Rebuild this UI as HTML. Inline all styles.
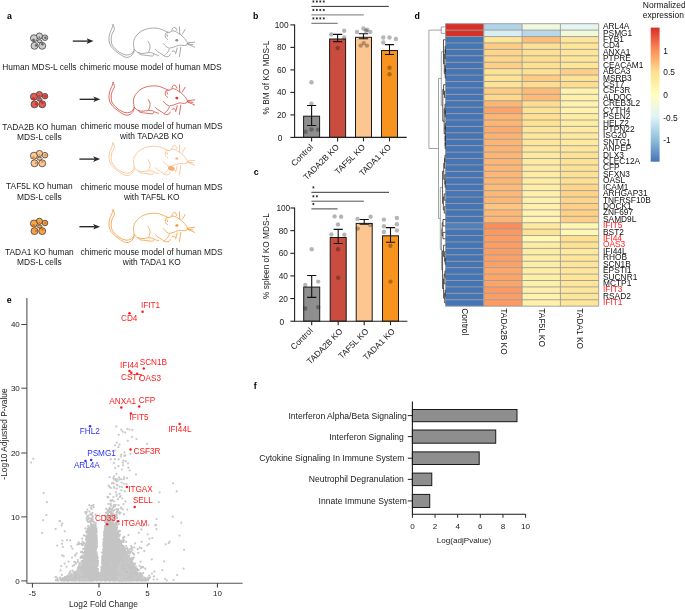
<!DOCTYPE html>
<html><head><meta charset="utf-8"><style>
html,body{margin:0;padding:0;background:#fff;width:685px;height:610px;overflow:hidden}
svg{display:block;will-change:transform;font-family:"Liberation Sans", sans-serif}
</style></head><body>
<svg width="685" height="610" viewBox="0 0 685 610">
<rect width="685" height="610" fill="#fff"/>
<text x="7.00" y="18.90" font-size="8.80" font-weight="bold">a</text>
<text x="253.10" y="18.70" font-size="8.80" font-weight="bold">b</text>
<text x="253.80" y="175.30" font-size="8.80" font-weight="bold">c</text>
<text x="414.60" y="19.30" font-size="8.80" font-weight="bold">d</text>
<text x="6.80" y="303.10" font-size="8.80" font-weight="bold">e</text>
<text x="253.80" y="388.90" font-size="8.80" font-weight="bold">f</text>
<defs><g id="mouse" fill="none" stroke-width="0.75" stroke-linecap="round">
<path d="M113.00,24.60C112.88,25.08 112.78,26.17 112.30,27.50C111.82,28.83 110.65,30.90 110.10,32.60C109.55,34.30 109.07,35.87 109.00,37.70C108.93,39.53 109.03,41.77 109.70,43.60C110.37,45.43 111.60,47.13 113.00,48.70C114.40,50.27 116.40,51.73 118.10,53.00C119.80,54.27 121.73,55.57 123.20,56.30C124.67,57.03 125.68,57.40 126.90,57.40C128.12,57.40 129.40,57.03 130.50,56.30C131.60,55.57 132.88,54.15 133.50,53.00C134.12,51.85 134.08,50.00 134.20,49.40"/>
<path d="M113.00,24.60C113.22,25.10 114.12,26.68 114.30,27.60C114.48,28.52 114.50,28.97 114.10,30.10C113.70,31.23 112.38,32.88 111.90,34.40C111.42,35.92 111.20,37.55 111.20,39.20C111.20,40.85 111.23,42.72 111.90,44.30C112.57,45.88 113.92,47.37 115.20,48.70C116.48,50.03 118.13,51.33 119.60,52.30C121.07,53.27 122.67,54.07 124.00,54.50C125.33,54.93 126.38,55.02 127.60,54.90C128.82,54.78 130.27,54.47 131.30,53.80C132.33,53.13 133.38,51.38 133.80,50.90"/>
<path d="M134.20,49.40C134.08,48.43 133.50,45.30 133.50,43.60C133.50,41.90 133.60,40.67 134.20,39.20C134.80,37.73 135.88,36.15 137.10,34.80C138.32,33.45 139.92,32.07 141.50,31.10C143.08,30.13 144.78,29.50 146.60,29.00C148.42,28.50 150.58,28.22 152.40,28.10C154.22,27.98 156.05,28.10 157.50,28.30C158.95,28.50 159.77,28.83 161.10,29.30C162.43,29.77 164.35,30.58 165.50,31.10C166.65,31.62 167.58,32.18 168.00,32.40"/>
<path d="M148.00,41.50C148.30,42.02 149.48,43.43 149.80,44.60C150.12,45.77 150.10,47.30 149.90,48.50C149.70,49.70 148.82,51.25 148.60,51.80"/>
<path d="M134.20,49.40C134.57,49.77 135.55,51.00 136.40,51.60C137.25,52.20 138.20,52.70 139.30,53.00C140.40,53.30 141.42,53.47 143.00,53.40C144.58,53.33 147.23,52.67 148.80,52.60C150.37,52.53 151.32,52.68 152.40,53.00C153.48,53.32 154.28,54.10 155.30,54.50C156.32,54.90 157.97,55.25 158.50,55.40"/>
<path d="M138.60,52.30C138.83,52.67 138.92,54.02 140.00,54.50C141.08,54.98 143.03,54.95 145.10,55.20C147.17,55.45 151.00,56.12 152.40,56.00C153.80,55.88 153.32,54.75 153.50,54.50"/>
<path d="M169.30,32.30C168.85,32.32 167.27,32.03 166.60,32.40C165.93,32.77 165.47,33.63 165.30,34.50C165.13,35.37 165.20,36.77 165.60,37.60C166.00,38.43 167.35,39.18 167.70,39.50"/>
<path d="M166.80,34.00L167.60,36.40"/>
<path d="M171.90,30.30C172.02,29.95 172.22,28.70 172.60,28.20C172.98,27.70 173.67,27.33 174.20,27.30C174.73,27.27 175.37,27.48 175.80,28.00C176.23,28.52 176.63,30.00 176.80,30.40"/>
<path d="M169.60,32.40C170.02,32.17 171.20,31.20 172.10,31.00C173.00,30.80 174.15,30.93 175.00,31.20C175.85,31.47 176.23,32.00 177.20,32.60C178.17,33.20 179.58,33.83 180.80,34.80C182.02,35.77 183.52,37.30 184.50,38.40C185.48,39.50 186.15,40.53 186.70,41.40C187.25,42.27 187.62,43.23 187.80,43.60"/>
<path d="M187.80,43.60C187.50,43.88 186.80,44.98 186.00,45.30C185.20,45.62 183.98,45.53 183.00,45.50C182.02,45.47 181.07,45.05 180.10,45.10C179.13,45.15 178.30,45.45 177.20,45.80C176.10,46.15 174.72,46.83 173.50,47.20C172.28,47.57 170.50,47.87 169.90,48.00"/>
<path d="M163.30,43.60C163.78,44.08 165.22,45.72 166.20,46.50C167.18,47.28 168.70,48.00 169.20,48.30"/>
<path d="M169.20,49.40C168.95,49.88 168.32,51.45 167.70,52.30C167.08,53.15 166.10,53.88 165.50,54.50C164.90,55.12 163.85,55.63 164.10,56.00C164.35,56.37 166.15,56.70 167.00,56.70C167.85,56.70 168.67,56.42 169.20,56.00C169.73,55.58 170.03,54.50 170.20,54.20"/>
<path d="M172.10,51.60C172.47,51.48 173.78,50.77 174.30,50.90C174.82,51.03 175.05,52.15 175.20,52.40"/>
<path d="M155.30,49.40C155.67,49.77 156.53,50.87 157.50,51.60C158.47,52.33 160.05,53.13 161.10,53.80C162.15,54.47 163.35,55.30 163.80,55.60"/>
<path d="M179.40,26.80L179.80,34.10"/>
<path d="M185.20,29.30L182.30,34.10"/>
<path d="M188.10,42.80L194.70,42.10"/>
<path d="M188.10,44.30L194.70,47.20"/>
<path d="M180.80,47.20L179.40,56.70"/>
<path d="M177.20,47.90L175.70,53.80"/>
<path d="M187.00,43.80L193.00,44.60"/>
</g></defs>
<g stroke="#383838" stroke-width="0.75">
<circle cx="39.40" cy="36.00" r="3.10" fill="#cdcdcd"/>
<circle cx="45.00" cy="37.70" r="2.80" fill="#cdcdcd"/>
<circle cx="33.90" cy="38.20" r="3.50" fill="#cdcdcd"/>
<circle cx="34.50" cy="45.80" r="3.50" fill="#cdcdcd"/>
<circle cx="42.20" cy="45.80" r="3.50" fill="#cdcdcd"/>
<ellipse cx="39.60" cy="41.20" rx="2.4" ry="1.5" fill="#cdcdcd"/>
</g>
<circle cx="33.50" cy="40.10" r="1.30" fill="#5e5e5e"/>
<circle cx="45.40" cy="37.70" r="1.20" fill="#5e5e5e"/>
<circle cx="39.40" cy="37.20" r="0.80" fill="#5e5e5e"/>
<circle cx="36.00" cy="45.40" r="1.20" fill="#5e5e5e"/>
<circle cx="42.40" cy="44.30" r="1.20" fill="#5e5e5e"/>
<line x1="72.80" y1="41.10" x2="88.30" y2="41.10" stroke="#2a2a2a" stroke-width="1.35"/>
<path d="M93.50,41.10 L86.60,38.30 L88.10,41.10 L86.60,43.90 Z" fill="#2a2a2a"/>
<use href="#mouse" transform="translate(0,0.00)" stroke="#8c8c8c"/>
<ellipse cx="176.8" cy="40.30" rx="1.5" ry="1.3" fill="#8c8c8c"/>
<text x="39.40" y="70.40" font-size="8.40" text-anchor="middle" fill="#1a1a1a">Human MDS-L cells</text>
<text x="150.60" y="70.40" font-size="8.40" text-anchor="middle" fill="#1a1a1a">chimeric mouse model of human MDS</text>
<g stroke="#383838" stroke-width="0.75">
<circle cx="39.40" cy="94.50" r="3.10" fill="#e05c55"/>
<circle cx="45.00" cy="96.20" r="2.80" fill="#e05c55"/>
<circle cx="33.90" cy="96.70" r="3.50" fill="#e05c55"/>
<circle cx="34.50" cy="104.30" r="3.50" fill="#e05c55"/>
<circle cx="42.20" cy="104.30" r="3.50" fill="#e05c55"/>
<ellipse cx="39.60" cy="99.70" rx="2.4" ry="1.5" fill="#e05c55"/>
</g>
<circle cx="33.50" cy="98.60" r="1.30" fill="#d42a20"/>
<circle cx="45.40" cy="96.20" r="1.20" fill="#d42a20"/>
<circle cx="39.40" cy="95.70" r="0.80" fill="#d42a20"/>
<circle cx="36.00" cy="103.90" r="1.20" fill="#d42a20"/>
<circle cx="42.40" cy="102.80" r="1.20" fill="#d42a20"/>
<line x1="79.60" y1="99.30" x2="95.10" y2="99.30" stroke="#2a2a2a" stroke-width="1.35"/>
<path d="M100.30,99.30 L93.40,96.50 L94.90,99.30 L93.40,102.10 Z" fill="#2a2a2a"/>
<use href="#mouse" transform="translate(0,57.80)" stroke="#cf3e32"/>
<ellipse cx="176.8" cy="98.10" rx="1.5" ry="1.3" fill="#cf3e32"/>
<text x="39.40" y="129.60" font-size="8.40" text-anchor="middle" fill="#1a1a1a">TADA2B KO human</text>
<text x="39.40" y="140.20" font-size="8.40" text-anchor="middle" fill="#1a1a1a">MDS-L cells</text>
<text x="151.60" y="128.80" font-size="8.40" text-anchor="middle" fill="#1a1a1a">chimeric mouse model of human MDS</text>
<text x="151.80" y="138.80" font-size="8.40" text-anchor="middle" fill="#1a1a1a">with TADA2B KO</text>
<g stroke="#383838" stroke-width="0.75">
<circle cx="39.40" cy="153.50" r="3.10" fill="#fcc894"/>
<circle cx="45.00" cy="155.20" r="2.80" fill="#fcc894"/>
<circle cx="33.90" cy="155.70" r="3.50" fill="#fcc894"/>
<circle cx="34.50" cy="163.30" r="3.50" fill="#fcc894"/>
<circle cx="42.20" cy="163.30" r="3.50" fill="#fcc894"/>
<ellipse cx="39.60" cy="158.70" rx="2.4" ry="1.5" fill="#fcc894"/>
</g>
<circle cx="33.50" cy="157.60" r="1.30" fill="#f08a3a"/>
<circle cx="45.40" cy="155.20" r="1.20" fill="#f08a3a"/>
<circle cx="39.40" cy="154.70" r="0.80" fill="#f08a3a"/>
<circle cx="36.00" cy="162.90" r="1.20" fill="#f08a3a"/>
<circle cx="42.40" cy="161.80" r="1.20" fill="#f08a3a"/>
<line x1="79.40" y1="159.10" x2="94.90" y2="159.10" stroke="#2a2a2a" stroke-width="1.35"/>
<path d="M100.10,159.10 L93.20,156.30 L94.70,159.10 L93.20,161.90 Z" fill="#2a2a2a"/>
<ellipse cx="171.3" cy="168.40" rx="3.4" ry="2.2" fill="#f7ae6c" transform="rotate(15 171.3 168.40)"/>
<use href="#mouse" transform="translate(0,118.20)" stroke="#f8b981"/>
<ellipse cx="176.8" cy="158.50" rx="1.5" ry="1.3" fill="#f8b981"/>
<text x="39.40" y="189.20" font-size="8.40" text-anchor="middle" fill="#1a1a1a">TAF5L KO human</text>
<text x="39.40" y="199.80" font-size="8.40" text-anchor="middle" fill="#1a1a1a">MDS-L cells</text>
<text x="151.60" y="189.50" font-size="8.40" text-anchor="middle" fill="#1a1a1a">chimeric mouse model of human MDS</text>
<text x="151.80" y="199.50" font-size="8.40" text-anchor="middle" fill="#1a1a1a">with TAF5L KO</text>
<g stroke="#383838" stroke-width="0.75">
<circle cx="39.40" cy="221.30" r="3.10" fill="#f6a444"/>
<circle cx="45.00" cy="223.00" r="2.80" fill="#f6a444"/>
<circle cx="33.90" cy="223.50" r="3.50" fill="#f6a444"/>
<circle cx="34.50" cy="231.10" r="3.50" fill="#f6a444"/>
<circle cx="42.20" cy="231.10" r="3.50" fill="#f6a444"/>
<ellipse cx="39.60" cy="226.50" rx="2.4" ry="1.5" fill="#f6a444"/>
</g>
<circle cx="33.50" cy="225.40" r="1.30" fill="#e8701a"/>
<circle cx="45.40" cy="223.00" r="1.20" fill="#e8701a"/>
<circle cx="39.40" cy="222.50" r="0.80" fill="#e8701a"/>
<circle cx="36.00" cy="230.70" r="1.20" fill="#e8701a"/>
<circle cx="42.40" cy="229.60" r="1.20" fill="#e8701a"/>
<line x1="79.40" y1="226.70" x2="94.90" y2="226.70" stroke="#2a2a2a" stroke-width="1.35"/>
<path d="M100.10,226.70 L93.20,223.90 L94.70,226.70 L93.20,229.50 Z" fill="#2a2a2a"/>
<use href="#mouse" transform="translate(0,185.20)" stroke="#f29530"/>
<ellipse cx="176.8" cy="225.50" rx="1.5" ry="1.3" fill="#f29530"/>
<text x="39.40" y="254.80" font-size="8.40" text-anchor="middle" fill="#1a1a1a">TADA1 KO human</text>
<text x="39.40" y="265.40" font-size="8.40" text-anchor="middle" fill="#1a1a1a">MDS-L cells</text>
<text x="151.60" y="255.40" font-size="8.40" text-anchor="middle" fill="#1a1a1a">chimeric mouse model of human MDS</text>
<text x="151.80" y="265.40" font-size="8.40" text-anchor="middle" fill="#1a1a1a">with TADA1 KO</text>
<rect x="303.60" y="116.20" width="16.00" height="21.20" fill="#8f8f8f" stroke="#1a1a1a" stroke-width="1.00"/>
<rect x="329.60" y="39.00" width="16.00" height="98.40" fill="#c94c3e" stroke="#1a1a1a" stroke-width="1.00"/>
<rect x="355.50" y="37.30" width="16.00" height="100.10" fill="#fdc590" stroke="#1a1a1a" stroke-width="1.00"/>
<rect x="381.50" y="50.50" width="16.00" height="86.90" fill="#f7941f" stroke="#1a1a1a" stroke-width="1.00"/>
<circle cx="311.50" cy="82.20" r="2.20" fill="#000" fill-opacity="0.29"/>
<circle cx="311.50" cy="103.70" r="2.20" fill="#000" fill-opacity="0.29"/>
<circle cx="331.20" cy="34.40" r="2.20" fill="#000" fill-opacity="0.29"/>
<circle cx="344.20" cy="30.70" r="2.20" fill="#000" fill-opacity="0.29"/>
<circle cx="344.20" cy="37.50" r="2.20" fill="#000" fill-opacity="0.29"/>
<circle cx="357.00" cy="31.90" r="2.20" fill="#000" fill-opacity="0.29"/>
<circle cx="363.40" cy="28.50" r="2.20" fill="#000" fill-opacity="0.29"/>
<circle cx="367.20" cy="29.70" r="2.20" fill="#000" fill-opacity="0.29"/>
<circle cx="370.30" cy="31.90" r="2.20" fill="#000" fill-opacity="0.29"/>
<circle cx="365.90" cy="30.90" r="2.20" fill="#000" fill-opacity="0.29"/>
<circle cx="383.30" cy="37.50" r="2.20" fill="#000" fill-opacity="0.29"/>
<circle cx="389.50" cy="37.50" r="2.20" fill="#000" fill-opacity="0.29"/>
<circle cx="395.90" cy="39.00" r="2.20" fill="#000" fill-opacity="0.29"/>
<circle cx="383.30" cy="42.50" r="2.20" fill="#000" fill-opacity="0.29"/>
<circle cx="305.60" cy="131.70" r="2.20" fill="#000" fill-opacity="0.29"/>
<circle cx="311.50" cy="129.50" r="2.20" fill="#000" fill-opacity="0.29"/>
<circle cx="318.00" cy="129.80" r="2.20" fill="#000" fill-opacity="0.29"/>
<circle cx="337.70" cy="48.10" r="2.20" fill="#000" fill-opacity="0.29"/>
<circle cx="360.70" cy="45.60" r="2.20" fill="#000" fill-opacity="0.29"/>
<circle cx="363.70" cy="43.10" r="2.20" fill="#000" fill-opacity="0.29"/>
<circle cx="366.90" cy="45.60" r="2.20" fill="#000" fill-opacity="0.29"/>
<circle cx="389.50" cy="67.70" r="2.20" fill="#000" fill-opacity="0.29"/>
<circle cx="389.50" cy="74.20" r="2.20" fill="#000" fill-opacity="0.29"/>
<path d="M307.00,105.50 H316.20 M307.00,125.50 H316.20 M311.60,105.50 V125.50" stroke="#111" stroke-width="1.1" fill="none"/>
<path d="M333.00,34.40 H342.20 M333.00,41.60 H342.20 M337.60,34.40 V41.60" stroke="#111" stroke-width="1.1" fill="none"/>
<path d="M358.90,33.80 H368.10 M358.90,38.80 H368.10 M363.50,33.80 V38.80" stroke="#111" stroke-width="1.1" fill="none"/>
<path d="M384.90,44.60 H394.10 M384.90,54.50 H394.10 M389.50,44.60 V54.50" stroke="#111" stroke-width="1.1" fill="none"/>
<path d="M294.60,24.40 V137.40 H406.70" stroke="#222" stroke-width="1.1" fill="none"/>
<line x1="290.40" y1="137.40" x2="294.60" y2="137.40" stroke="#222" stroke-width="1.10"/>
<text x="280.10" y="141.30" font-size="8.30" text-anchor="middle" fill="#222">0</text>
<line x1="290.40" y1="114.90" x2="294.60" y2="114.90" stroke="#222" stroke-width="1.10"/>
<text x="281.60" y="117.90" font-size="8.30" text-anchor="middle" fill="#222">20</text>
<line x1="290.40" y1="92.40" x2="294.60" y2="92.40" stroke="#222" stroke-width="1.10"/>
<text x="281.60" y="95.40" font-size="8.30" text-anchor="middle" fill="#222">40</text>
<line x1="290.40" y1="69.90" x2="294.60" y2="69.90" stroke="#222" stroke-width="1.10"/>
<text x="281.60" y="72.90" font-size="8.30" text-anchor="middle" fill="#222">60</text>
<line x1="290.40" y1="47.40" x2="294.60" y2="47.40" stroke="#222" stroke-width="1.10"/>
<text x="281.60" y="50.40" font-size="8.30" text-anchor="middle" fill="#222">80</text>
<line x1="290.40" y1="24.90" x2="294.60" y2="24.90" stroke="#222" stroke-width="1.10"/>
<text x="281.60" y="27.90" font-size="8.30" text-anchor="middle" fill="#222">100</text>
<line x1="311.60" y1="137.40" x2="311.60" y2="141.40" stroke="#222" stroke-width="1.10"/>
<line x1="337.60" y1="137.40" x2="337.60" y2="141.40" stroke="#222" stroke-width="1.10"/>
<line x1="363.50" y1="137.40" x2="363.50" y2="141.40" stroke="#222" stroke-width="1.10"/>
<line x1="389.50" y1="137.40" x2="389.50" y2="141.40" stroke="#222" stroke-width="1.10"/>
<text transform="translate(313.60,147.60) rotate(-45)" font-size="8.4" text-anchor="end" fill="#1a1a1a">Control</text>
<text transform="translate(339.60,147.60) rotate(-45)" font-size="8.4" text-anchor="end" fill="#1a1a1a">TADA2B KO</text>
<text transform="translate(365.50,147.60) rotate(-45)" font-size="8.4" text-anchor="end" fill="#1a1a1a">TAF5L KO</text>
<text transform="translate(391.50,147.60) rotate(-45)" font-size="8.4" text-anchor="end" fill="#1a1a1a">TADA1 KO</text>
<text transform="translate(269.0,77.50) rotate(-90)" font-size="8.3" text-anchor="middle" fill="#1a1a1a">% BM of KO MDS-L</text>
<line x1="311.40" y1="6.40" x2="388.80" y2="6.40" stroke="#333" stroke-width="1.00"/>
<path d="M313.40,0.40v2.2M312.45,0.95l1.9,1.1M312.45,2.05l1.9,-1.1" stroke="#222" stroke-width="0.75" fill="none"/>
<path d="M316.85,0.40v2.2M315.90,0.95l1.9,1.1M315.90,2.05l1.9,-1.1" stroke="#222" stroke-width="0.75" fill="none"/>
<path d="M320.30,0.40v2.2M319.35,0.95l1.9,1.1M319.35,2.05l1.9,-1.1" stroke="#222" stroke-width="0.75" fill="none"/>
<path d="M323.75,0.40v2.2M322.80,0.95l1.9,1.1M322.80,2.05l1.9,-1.1" stroke="#222" stroke-width="0.75" fill="none"/>
<line x1="311.40" y1="14.90" x2="363.80" y2="14.90" stroke="#777" stroke-width="1.00"/>
<path d="M313.40,8.90v2.2M312.45,9.45l1.9,1.1M312.45,10.55l1.9,-1.1" stroke="#222" stroke-width="0.75" fill="none"/>
<path d="M316.85,8.90v2.2M315.90,9.45l1.9,1.1M315.90,10.55l1.9,-1.1" stroke="#222" stroke-width="0.75" fill="none"/>
<path d="M320.30,8.90v2.2M319.35,9.45l1.9,1.1M319.35,10.55l1.9,-1.1" stroke="#222" stroke-width="0.75" fill="none"/>
<path d="M323.75,8.90v2.2M322.80,9.45l1.9,1.1M322.80,10.55l1.9,-1.1" stroke="#222" stroke-width="0.75" fill="none"/>
<line x1="311.40" y1="23.30" x2="337.70" y2="23.30" stroke="#666" stroke-width="1.00"/>
<path d="M313.40,17.30v2.2M312.45,17.85l1.9,1.1M312.45,18.95l1.9,-1.1" stroke="#222" stroke-width="0.75" fill="none"/>
<path d="M316.85,17.30v2.2M315.90,17.85l1.9,1.1M315.90,18.95l1.9,-1.1" stroke="#222" stroke-width="0.75" fill="none"/>
<path d="M320.30,17.30v2.2M319.35,17.85l1.9,1.1M319.35,18.95l1.9,-1.1" stroke="#222" stroke-width="0.75" fill="none"/>
<path d="M323.75,17.30v2.2M322.80,17.85l1.9,1.1M322.80,18.95l1.9,-1.1" stroke="#222" stroke-width="0.75" fill="none"/>
<rect x="303.70" y="287.10" width="16.00" height="34.10" fill="#8f8f8f" stroke="#1a1a1a" stroke-width="1.00"/>
<rect x="330.20" y="237.50" width="16.00" height="83.70" fill="#c94c3e" stroke="#1a1a1a" stroke-width="1.00"/>
<rect x="356.20" y="223.40" width="16.00" height="97.80" fill="#fdc590" stroke="#1a1a1a" stroke-width="1.00"/>
<rect x="382.50" y="235.80" width="16.00" height="85.40" fill="#f7941f" stroke="#1a1a1a" stroke-width="1.00"/>
<circle cx="311.70" cy="249.20" r="2.20" fill="#000" fill-opacity="0.29"/>
<circle cx="305.30" cy="284.90" r="2.20" fill="#000" fill-opacity="0.29"/>
<circle cx="318.20" cy="281.60" r="2.20" fill="#000" fill-opacity="0.29"/>
<circle cx="334.60" cy="216.40" r="2.20" fill="#000" fill-opacity="0.29"/>
<circle cx="341.10" cy="216.80" r="2.20" fill="#000" fill-opacity="0.29"/>
<circle cx="338.00" cy="224.50" r="2.20" fill="#000" fill-opacity="0.29"/>
<circle cx="331.40" cy="234.50" r="2.20" fill="#000" fill-opacity="0.29"/>
<circle cx="344.40" cy="234.80" r="2.20" fill="#000" fill-opacity="0.29"/>
<circle cx="357.50" cy="218.90" r="2.20" fill="#000" fill-opacity="0.29"/>
<circle cx="370.60" cy="216.80" r="2.20" fill="#000" fill-opacity="0.29"/>
<circle cx="383.90" cy="219.60" r="2.20" fill="#000" fill-opacity="0.29"/>
<circle cx="396.90" cy="218.00" r="2.20" fill="#000" fill-opacity="0.29"/>
<circle cx="383.90" cy="226.30" r="2.20" fill="#000" fill-opacity="0.29"/>
<circle cx="396.90" cy="224.20" r="2.20" fill="#000" fill-opacity="0.29"/>
<circle cx="383.90" cy="232.00" r="2.20" fill="#000" fill-opacity="0.29"/>
<circle cx="396.90" cy="230.40" r="2.20" fill="#000" fill-opacity="0.29"/>
<circle cx="305.30" cy="308.50" r="2.20" fill="#000" fill-opacity="0.29"/>
<circle cx="318.20" cy="307.20" r="2.20" fill="#000" fill-opacity="0.29"/>
<circle cx="338.00" cy="249.30" r="2.20" fill="#000" fill-opacity="0.29"/>
<circle cx="338.20" cy="277.70" r="2.20" fill="#000" fill-opacity="0.29"/>
<circle cx="357.80" cy="228.60" r="2.20" fill="#000" fill-opacity="0.29"/>
<circle cx="370.30" cy="224.90" r="2.20" fill="#000" fill-opacity="0.29"/>
<circle cx="390.40" cy="245.70" r="2.20" fill="#000" fill-opacity="0.29"/>
<circle cx="390.50" cy="281.60" r="2.20" fill="#000" fill-opacity="0.29"/>
<path d="M307.10,275.50 H316.30 M307.10,297.40 H316.30 M311.70,275.50 V297.40" stroke="#111" stroke-width="1.1" fill="none"/>
<path d="M333.60,229.40 H342.80 M333.60,243.50 H342.80 M338.20,229.40 V243.50" stroke="#111" stroke-width="1.1" fill="none"/>
<path d="M359.60,219.50 H368.80 M359.60,224.20 H368.80 M364.20,219.50 V224.20" stroke="#111" stroke-width="1.1" fill="none"/>
<path d="M385.90,227.60 H395.10 M385.90,242.20 H395.10 M390.50,227.60 V242.20" stroke="#111" stroke-width="1.1" fill="none"/>
<path d="M294.60,207.50 V321.20 H407.40" stroke="#222" stroke-width="1.1" fill="none"/>
<line x1="290.40" y1="321.20" x2="294.60" y2="321.20" stroke="#222" stroke-width="1.10"/>
<text x="281.80" y="325.10" font-size="8.30" text-anchor="middle" fill="#222">0</text>
<line x1="290.40" y1="298.56" x2="294.60" y2="298.56" stroke="#222" stroke-width="1.10"/>
<text x="283.30" y="301.56" font-size="8.30" text-anchor="middle" fill="#222">20</text>
<line x1="290.40" y1="275.92" x2="294.60" y2="275.92" stroke="#222" stroke-width="1.10"/>
<text x="283.30" y="278.92" font-size="8.30" text-anchor="middle" fill="#222">40</text>
<line x1="290.40" y1="253.28" x2="294.60" y2="253.28" stroke="#222" stroke-width="1.10"/>
<text x="283.30" y="256.28" font-size="8.30" text-anchor="middle" fill="#222">60</text>
<line x1="290.40" y1="230.64" x2="294.60" y2="230.64" stroke="#222" stroke-width="1.10"/>
<text x="283.30" y="233.64" font-size="8.30" text-anchor="middle" fill="#222">80</text>
<line x1="290.40" y1="208.00" x2="294.60" y2="208.00" stroke="#222" stroke-width="1.10"/>
<text x="283.30" y="211.00" font-size="8.30" text-anchor="middle" fill="#222">100</text>
<line x1="311.70" y1="321.20" x2="311.70" y2="325.20" stroke="#222" stroke-width="1.10"/>
<line x1="338.20" y1="321.20" x2="338.20" y2="325.20" stroke="#222" stroke-width="1.10"/>
<line x1="364.20" y1="321.20" x2="364.20" y2="325.20" stroke="#222" stroke-width="1.10"/>
<line x1="390.50" y1="321.20" x2="390.50" y2="325.20" stroke="#222" stroke-width="1.10"/>
<text transform="translate(313.20,331.20) rotate(-45)" font-size="8.4" text-anchor="end" fill="#1a1a1a">Control</text>
<text transform="translate(343.10,332.00) rotate(-45)" font-size="8.4" text-anchor="end" fill="#1a1a1a">TADA2B KO</text>
<text transform="translate(369.10,332.00) rotate(-45)" font-size="8.4" text-anchor="end" fill="#1a1a1a">TAF5L KO</text>
<text transform="translate(395.40,331.80) rotate(-45)" font-size="8.4" text-anchor="end" fill="#1a1a1a">TADA1 KO</text>
<text transform="translate(269.0,256.00) rotate(-90)" font-size="8.3" text-anchor="middle" fill="#1a1a1a">% spleen of KO MDS-L</text>
<line x1="311.40" y1="192.30" x2="389.00" y2="192.30" stroke="#333" stroke-width="1.00"/>
<path d="M313.40,186.30v2.2M312.45,186.85l1.9,1.1M312.45,187.95l1.9,-1.1" stroke="#222" stroke-width="0.75" fill="none"/>
<line x1="311.40" y1="201.20" x2="363.80" y2="201.20" stroke="#555" stroke-width="1.00"/>
<path d="M313.40,195.20v2.2M312.45,195.75l1.9,1.1M312.45,196.85l1.9,-1.1" stroke="#222" stroke-width="0.75" fill="none"/>
<path d="M316.85,195.20v2.2M315.90,195.75l1.9,1.1M315.90,196.85l1.9,-1.1" stroke="#222" stroke-width="0.75" fill="none"/>
<line x1="311.40" y1="208.90" x2="337.60" y2="208.90" stroke="#444" stroke-width="1.00"/>
<path d="M313.40,202.90v2.2M312.45,203.45l1.9,1.1M312.45,204.55l1.9,-1.1" stroke="#222" stroke-width="0.75" fill="none"/>
<rect x="445.50" y="23.70" width="38.30" height="6.42" fill="#d73027"/>
<rect x="483.80" y="23.70" width="38.30" height="6.42" fill="#b1d4e7"/>
<rect x="522.10" y="23.70" width="38.30" height="6.42" fill="#eef9de"/>
<rect x="560.40" y="23.70" width="38.30" height="6.42" fill="#e5f5ef"/>
<rect x="445.50" y="30.12" width="38.30" height="6.42" fill="#d73027"/>
<rect x="483.80" y="30.12" width="38.30" height="6.42" fill="#d8eef5"/>
<rect x="522.10" y="30.12" width="38.30" height="6.42" fill="#b8d9ea"/>
<rect x="560.40" y="30.12" width="38.30" height="6.42" fill="#f0f9dc"/>
<rect x="445.50" y="36.54" width="38.30" height="6.42" fill="#4575b4"/>
<rect x="483.80" y="36.54" width="38.30" height="6.42" fill="#fee598"/>
<rect x="522.10" y="36.54" width="38.30" height="6.42" fill="#fdbf7a"/>
<rect x="560.40" y="36.54" width="38.30" height="6.42" fill="#fee598"/>
<rect x="445.50" y="42.96" width="38.30" height="6.42" fill="#4575b4"/>
<rect x="483.80" y="42.96" width="38.30" height="6.42" fill="#fecc83"/>
<rect x="522.10" y="42.96" width="38.30" height="6.42" fill="#fee294"/>
<rect x="560.40" y="42.96" width="38.30" height="6.42" fill="#fee598"/>
<rect x="445.50" y="49.38" width="38.30" height="6.42" fill="#4575b4"/>
<rect x="483.80" y="49.38" width="38.30" height="6.42" fill="#fed689"/>
<rect x="522.10" y="49.38" width="38.30" height="6.42" fill="#fee090"/>
<rect x="560.40" y="49.38" width="38.30" height="6.42" fill="#fee598"/>
<rect x="445.50" y="55.80" width="38.30" height="6.42" fill="#4575b4"/>
<rect x="483.80" y="55.80" width="38.30" height="6.42" fill="#fed689"/>
<rect x="522.10" y="55.80" width="38.30" height="6.42" fill="#fedd8e"/>
<rect x="560.40" y="55.80" width="38.30" height="6.42" fill="#fee598"/>
<rect x="445.50" y="62.22" width="38.30" height="6.42" fill="#4575b4"/>
<rect x="483.80" y="62.22" width="38.30" height="6.42" fill="#fecf85"/>
<rect x="522.10" y="62.22" width="38.30" height="6.42" fill="#fee090"/>
<rect x="560.40" y="62.22" width="38.30" height="6.42" fill="#fee699"/>
<rect x="445.50" y="68.64" width="38.30" height="6.42" fill="#4575b4"/>
<rect x="483.80" y="68.64" width="38.30" height="6.42" fill="#fee395"/>
<rect x="522.10" y="68.64" width="38.30" height="6.42" fill="#fee090"/>
<rect x="560.40" y="68.64" width="38.30" height="6.42" fill="#fecf85"/>
<rect x="445.50" y="75.06" width="38.30" height="6.42" fill="#4575b4"/>
<rect x="483.80" y="75.06" width="38.30" height="6.42" fill="#fee395"/>
<rect x="522.10" y="75.06" width="38.30" height="6.42" fill="#fecc83"/>
<rect x="560.40" y="75.06" width="38.30" height="6.42" fill="#fee395"/>
<rect x="445.50" y="81.48" width="38.30" height="6.42" fill="#4575b4"/>
<rect x="483.80" y="81.48" width="38.30" height="6.42" fill="#fee395"/>
<rect x="522.10" y="81.48" width="38.30" height="6.42" fill="#fedd8e"/>
<rect x="560.40" y="81.48" width="38.30" height="6.42" fill="#fedd8e"/>
<rect x="445.50" y="87.90" width="38.30" height="6.42" fill="#4575b4"/>
<rect x="483.80" y="87.90" width="38.30" height="6.42" fill="#fecc83"/>
<rect x="522.10" y="87.90" width="38.30" height="6.42" fill="#fdbb78"/>
<rect x="560.40" y="87.90" width="38.30" height="6.42" fill="#fff3ac"/>
<rect x="445.50" y="94.32" width="38.30" height="6.42" fill="#4575b4"/>
<rect x="483.80" y="94.32" width="38.30" height="6.42" fill="#fed88b"/>
<rect x="522.10" y="94.32" width="38.30" height="6.42" fill="#fdbb78"/>
<rect x="560.40" y="94.32" width="38.30" height="6.42" fill="#fff1aa"/>
<rect x="445.50" y="100.74" width="38.30" height="6.42" fill="#4575b4"/>
<rect x="483.80" y="100.74" width="38.30" height="6.42" fill="#fdb573"/>
<rect x="522.10" y="100.74" width="38.30" height="6.42" fill="#fedd8e"/>
<rect x="560.40" y="100.74" width="38.30" height="6.42" fill="#fff1aa"/>
<rect x="445.50" y="107.16" width="38.30" height="6.42" fill="#4575b4"/>
<rect x="483.80" y="107.16" width="38.30" height="6.42" fill="#fda468"/>
<rect x="522.10" y="107.16" width="38.30" height="6.42" fill="#fee294"/>
<rect x="560.40" y="107.16" width="38.30" height="6.42" fill="#fff3ac"/>
<rect x="445.50" y="113.58" width="38.30" height="6.42" fill="#4575b4"/>
<rect x="483.80" y="113.58" width="38.30" height="6.42" fill="#fdb573"/>
<rect x="522.10" y="113.58" width="38.30" height="6.42" fill="#fee090"/>
<rect x="560.40" y="113.58" width="38.30" height="6.42" fill="#feeca3"/>
<rect x="445.50" y="120.00" width="38.30" height="6.42" fill="#4575b4"/>
<rect x="483.80" y="120.00" width="38.30" height="6.42" fill="#fdb573"/>
<rect x="522.10" y="120.00" width="38.30" height="6.42" fill="#fee192"/>
<rect x="560.40" y="120.00" width="38.30" height="6.42" fill="#feeca3"/>
<rect x="445.50" y="126.42" width="38.30" height="6.42" fill="#4575b4"/>
<rect x="483.80" y="126.42" width="38.30" height="6.42" fill="#fdab6d"/>
<rect x="522.10" y="126.42" width="38.30" height="6.42" fill="#fee699"/>
<rect x="560.40" y="126.42" width="38.30" height="6.42" fill="#feeba1"/>
<rect x="445.50" y="132.84" width="38.30" height="6.42" fill="#4575b4"/>
<rect x="483.80" y="132.84" width="38.30" height="6.42" fill="#fdb271"/>
<rect x="522.10" y="132.84" width="38.30" height="6.42" fill="#fee79b"/>
<rect x="560.40" y="132.84" width="38.30" height="6.42" fill="#fee99d"/>
<rect x="445.50" y="139.26" width="38.30" height="6.42" fill="#4575b4"/>
<rect x="483.80" y="139.26" width="38.30" height="6.42" fill="#fdb573"/>
<rect x="522.10" y="139.26" width="38.30" height="6.42" fill="#fee79b"/>
<rect x="560.40" y="139.26" width="38.30" height="6.42" fill="#fee99d"/>
<rect x="445.50" y="145.68" width="38.30" height="6.42" fill="#4575b4"/>
<rect x="483.80" y="145.68" width="38.30" height="6.42" fill="#fdb573"/>
<rect x="522.10" y="145.68" width="38.30" height="6.42" fill="#fee79b"/>
<rect x="560.40" y="145.68" width="38.30" height="6.42" fill="#fee79b"/>
<rect x="445.50" y="152.10" width="38.30" height="6.42" fill="#4575b4"/>
<rect x="483.80" y="152.10" width="38.30" height="6.42" fill="#fdb674"/>
<rect x="522.10" y="152.10" width="38.30" height="6.42" fill="#feeba0"/>
<rect x="560.40" y="152.10" width="38.30" height="6.42" fill="#fee294"/>
<rect x="445.50" y="158.52" width="38.30" height="6.42" fill="#4575b4"/>
<rect x="483.80" y="158.52" width="38.30" height="6.42" fill="#fdb674"/>
<rect x="522.10" y="158.52" width="38.30" height="6.42" fill="#feeba1"/>
<rect x="560.40" y="158.52" width="38.30" height="6.42" fill="#fee294"/>
<rect x="445.50" y="164.94" width="38.30" height="6.42" fill="#4575b4"/>
<rect x="483.80" y="164.94" width="38.30" height="6.42" fill="#fdb674"/>
<rect x="522.10" y="164.94" width="38.30" height="6.42" fill="#feeba1"/>
<rect x="560.40" y="164.94" width="38.30" height="6.42" fill="#fee294"/>
<rect x="445.50" y="171.36" width="38.30" height="6.42" fill="#4575b4"/>
<rect x="483.80" y="171.36" width="38.30" height="6.42" fill="#fdb674"/>
<rect x="522.10" y="171.36" width="38.30" height="6.42" fill="#feeca3"/>
<rect x="560.40" y="171.36" width="38.30" height="6.42" fill="#fee192"/>
<rect x="445.50" y="177.78" width="38.30" height="6.42" fill="#4575b4"/>
<rect x="483.80" y="177.78" width="38.30" height="6.42" fill="#fdb674"/>
<rect x="522.10" y="177.78" width="38.30" height="6.42" fill="#feeca3"/>
<rect x="560.40" y="177.78" width="38.30" height="6.42" fill="#fee090"/>
<rect x="445.50" y="184.20" width="38.30" height="6.42" fill="#4575b4"/>
<rect x="483.80" y="184.20" width="38.30" height="6.42" fill="#fdbb78"/>
<rect x="522.10" y="184.20" width="38.30" height="6.42" fill="#feeea5"/>
<rect x="560.40" y="184.20" width="38.30" height="6.42" fill="#fed689"/>
<rect x="445.50" y="190.62" width="38.30" height="6.42" fill="#4575b4"/>
<rect x="483.80" y="190.62" width="38.30" height="6.42" fill="#fdb876"/>
<rect x="522.10" y="190.62" width="38.30" height="6.42" fill="#fff1aa"/>
<rect x="560.40" y="190.62" width="38.30" height="6.42" fill="#fed387"/>
<rect x="445.50" y="197.04" width="38.30" height="6.42" fill="#4575b4"/>
<rect x="483.80" y="197.04" width="38.30" height="6.42" fill="#fdb876"/>
<rect x="522.10" y="197.04" width="38.30" height="6.42" fill="#fff1aa"/>
<rect x="560.40" y="197.04" width="38.30" height="6.42" fill="#fed689"/>
<rect x="445.50" y="203.46" width="38.30" height="6.42" fill="#4575b4"/>
<rect x="483.80" y="203.46" width="38.30" height="6.42" fill="#fdc57e"/>
<rect x="522.10" y="203.46" width="38.30" height="6.42" fill="#fff1aa"/>
<rect x="560.40" y="203.46" width="38.30" height="6.42" fill="#fecf85"/>
<rect x="445.50" y="209.88" width="38.30" height="6.42" fill="#4575b4"/>
<rect x="483.80" y="209.88" width="38.30" height="6.42" fill="#fdb876"/>
<rect x="522.10" y="209.88" width="38.30" height="6.42" fill="#fff4af"/>
<rect x="560.40" y="209.88" width="38.30" height="6.42" fill="#fecf85"/>
<rect x="445.50" y="216.30" width="38.30" height="6.42" fill="#4575b4"/>
<rect x="483.80" y="216.30" width="38.30" height="6.42" fill="#fdb674"/>
<rect x="522.10" y="216.30" width="38.30" height="6.42" fill="#fff5b0"/>
<rect x="560.40" y="216.30" width="38.30" height="6.42" fill="#fecf85"/>
<rect x="445.50" y="222.72" width="38.30" height="6.42" fill="#5181ba"/>
<rect x="483.80" y="222.72" width="38.30" height="6.42" fill="#fc8d59"/>
<rect x="522.10" y="222.72" width="38.30" height="6.42" fill="#fee99d"/>
<rect x="560.40" y="222.72" width="38.30" height="6.42" fill="#fff6b2"/>
<rect x="445.50" y="229.14" width="38.30" height="6.42" fill="#4575b4"/>
<rect x="483.80" y="229.14" width="38.30" height="6.42" fill="#fc9961"/>
<rect x="522.10" y="229.14" width="38.30" height="6.42" fill="#fee395"/>
<rect x="560.40" y="229.14" width="38.30" height="6.42" fill="#fff8b4"/>
<rect x="445.50" y="235.56" width="38.30" height="6.42" fill="#4575b4"/>
<rect x="483.80" y="235.56" width="38.30" height="6.42" fill="#fc9e64"/>
<rect x="522.10" y="235.56" width="38.30" height="6.42" fill="#fff8b4"/>
<rect x="560.40" y="235.56" width="38.30" height="6.42" fill="#fee090"/>
<rect x="445.50" y="241.98" width="38.30" height="6.42" fill="#4575b4"/>
<rect x="483.80" y="241.98" width="38.30" height="6.42" fill="#fc9e64"/>
<rect x="522.10" y="241.98" width="38.30" height="6.42" fill="#feeca3"/>
<rect x="560.40" y="241.98" width="38.30" height="6.42" fill="#fee294"/>
<rect x="445.50" y="248.40" width="38.30" height="6.42" fill="#4575b4"/>
<rect x="483.80" y="248.40" width="38.30" height="6.42" fill="#fc9e64"/>
<rect x="522.10" y="248.40" width="38.30" height="6.42" fill="#feeca3"/>
<rect x="560.40" y="248.40" width="38.30" height="6.42" fill="#fee99d"/>
<rect x="445.50" y="254.82" width="38.30" height="6.42" fill="#4575b4"/>
<rect x="483.80" y="254.82" width="38.30" height="6.42" fill="#fca166"/>
<rect x="522.10" y="254.82" width="38.30" height="6.42" fill="#feeea5"/>
<rect x="560.40" y="254.82" width="38.30" height="6.42" fill="#fee598"/>
<rect x="445.50" y="261.24" width="38.30" height="6.42" fill="#4575b4"/>
<rect x="483.80" y="261.24" width="38.30" height="6.42" fill="#fca166"/>
<rect x="522.10" y="261.24" width="38.30" height="6.42" fill="#feeea5"/>
<rect x="560.40" y="261.24" width="38.30" height="6.42" fill="#fee598"/>
<rect x="445.50" y="267.66" width="38.30" height="6.42" fill="#4575b4"/>
<rect x="483.80" y="267.66" width="38.30" height="6.42" fill="#fda86b"/>
<rect x="522.10" y="267.66" width="38.30" height="6.42" fill="#feeea5"/>
<rect x="560.40" y="267.66" width="38.30" height="6.42" fill="#fee79b"/>
<rect x="445.50" y="274.08" width="38.30" height="6.42" fill="#4575b4"/>
<rect x="483.80" y="274.08" width="38.30" height="6.42" fill="#fda468"/>
<rect x="522.10" y="274.08" width="38.30" height="6.42" fill="#feefa7"/>
<rect x="560.40" y="274.08" width="38.30" height="6.42" fill="#fee598"/>
<rect x="445.50" y="280.50" width="38.30" height="6.42" fill="#4575b4"/>
<rect x="483.80" y="280.50" width="38.30" height="6.42" fill="#fda468"/>
<rect x="522.10" y="280.50" width="38.30" height="6.42" fill="#fef0a8"/>
<rect x="560.40" y="280.50" width="38.30" height="6.42" fill="#fee598"/>
<rect x="445.50" y="286.92" width="38.30" height="6.42" fill="#4575b4"/>
<rect x="483.80" y="286.92" width="38.30" height="6.42" fill="#fc9a62"/>
<rect x="522.10" y="286.92" width="38.30" height="6.42" fill="#fef0a8"/>
<rect x="560.40" y="286.92" width="38.30" height="6.42" fill="#fee79b"/>
<rect x="445.50" y="293.34" width="38.30" height="6.42" fill="#4575b4"/>
<rect x="483.80" y="293.34" width="38.30" height="6.42" fill="#fc9e64"/>
<rect x="522.10" y="293.34" width="38.30" height="6.42" fill="#fff3ac"/>
<rect x="560.40" y="293.34" width="38.30" height="6.42" fill="#fee699"/>
<rect x="445.50" y="299.76" width="38.30" height="6.42" fill="#4575b4"/>
<rect x="483.80" y="299.76" width="38.30" height="6.42" fill="#fc9a62"/>
<rect x="522.10" y="299.76" width="38.30" height="6.42" fill="#fff1aa"/>
<rect x="560.40" y="299.76" width="38.30" height="6.42" fill="#fee598"/>
<path d="M445.50,23.70H598.70M445.50,30.12H598.70M445.50,36.54H598.70M445.50,42.96H598.70M445.50,49.38H598.70M445.50,55.80H598.70M445.50,62.22H598.70M445.50,68.64H598.70M445.50,75.06H598.70M445.50,81.48H598.70M445.50,87.90H598.70M445.50,94.32H598.70M445.50,100.74H598.70M445.50,107.16H598.70M445.50,113.58H598.70M445.50,120.00H598.70M445.50,126.42H598.70M445.50,132.84H598.70M445.50,139.26H598.70M445.50,145.68H598.70M445.50,152.10H598.70M445.50,158.52H598.70M445.50,164.94H598.70M445.50,171.36H598.70M445.50,177.78H598.70M445.50,184.20H598.70M445.50,190.62H598.70M445.50,197.04H598.70M445.50,203.46H598.70M445.50,209.88H598.70M445.50,216.30H598.70M445.50,222.72H598.70M445.50,229.14H598.70M445.50,235.56H598.70M445.50,241.98H598.70M445.50,248.40H598.70M445.50,254.82H598.70M445.50,261.24H598.70M445.50,267.66H598.70M445.50,274.08H598.70M445.50,280.50H598.70M445.50,286.92H598.70M445.50,293.34H598.70M445.50,299.76H598.70M445.50,306.18H598.70M445.50,23.70V306.18M483.80,23.70V306.18M522.10,23.70V306.18M560.40,23.70V306.18M598.70,23.70V306.18" stroke="#9a9a9a" stroke-width="0.9" fill="none"/>
<text x="603.00" y="29.21" font-size="8.35" fill="#111">ARL4A</text>
<text x="603.00" y="35.63" font-size="8.35" fill="#111">PSMG1</text>
<text x="603.00" y="42.05" font-size="8.35" fill="#111">FYB1</text>
<text x="603.00" y="48.47" font-size="8.35" fill="#111">CD4</text>
<text x="603.00" y="54.89" font-size="8.35" fill="#111">ANXA1</text>
<text x="603.00" y="61.31" font-size="8.35" fill="#111">PTPRE</text>
<text x="603.00" y="67.73" font-size="8.35" fill="#111">CEACAM1</text>
<text x="603.00" y="74.15" font-size="8.35" fill="#111">ABCA3</text>
<text x="603.00" y="80.57" font-size="8.35" fill="#111">MSRB3</text>
<text x="603.00" y="86.99" font-size="8.35" fill="#111">CST7</text>
<text x="603.00" y="93.41" font-size="8.35" fill="#111">CSF3R</text>
<text x="603.00" y="99.83" font-size="8.35" fill="#111">ALDOC</text>
<text x="603.00" y="106.25" font-size="8.35" fill="#111">CREB3L2</text>
<text x="603.00" y="112.67" font-size="8.35" fill="#111">CYTH4</text>
<text x="603.00" y="119.09" font-size="8.35" fill="#111">PSEN2</text>
<text x="603.00" y="125.51" font-size="8.35" fill="#111">HELZ2</text>
<text x="603.00" y="131.93" font-size="8.35" fill="#111">PTPN22</text>
<text x="603.00" y="138.35" font-size="8.35" fill="#111">ISG20</text>
<text x="603.00" y="144.77" font-size="8.35" fill="#111">SNTG1</text>
<text x="603.00" y="151.19" font-size="8.35" fill="#111">ANPEP</text>
<text x="603.00" y="157.61" font-size="8.35" fill="#111">DLX3</text>
<text x="603.00" y="164.03" font-size="8.35" fill="#111">CLEC12A</text>
<text x="603.00" y="170.45" font-size="8.35" fill="#111">CFP</text>
<text x="603.00" y="176.87" font-size="8.35" fill="#111">SFXN3</text>
<text x="603.00" y="183.29" font-size="8.35" fill="#111">OASL</text>
<text x="603.00" y="189.71" font-size="8.35" fill="#111">ICAM1</text>
<text x="603.00" y="196.13" font-size="8.35" fill="#111">ARHGAP31</text>
<text x="603.00" y="202.55" font-size="8.35" fill="#111">TNFRSF10B</text>
<text x="603.00" y="208.97" font-size="8.35" fill="#111">DOCK1</text>
<text x="603.00" y="215.39" font-size="8.35" fill="#111">ZNF697</text>
<text x="603.00" y="221.81" font-size="8.35" fill="#111">SAMD9L</text>
<text x="603.00" y="228.23" font-size="8.35" fill="#ff2020">IFIT5</text>
<text x="603.00" y="234.65" font-size="8.35" fill="#111">BST2</text>
<text x="603.00" y="241.07" font-size="8.35" fill="#ff2020">IFI44</text>
<text x="603.00" y="247.49" font-size="8.35" fill="#ff2020">OAS3</text>
<text x="603.00" y="253.91" font-size="8.35" fill="#111">IFI44L</text>
<text x="603.00" y="260.33" font-size="8.35" fill="#111">RHOB</text>
<text x="603.00" y="266.75" font-size="8.35" fill="#111">SCN1B</text>
<text x="603.00" y="273.17" font-size="8.35" fill="#111">EPSTI1</text>
<text x="603.00" y="279.59" font-size="8.35" fill="#111">SUCNR1</text>
<text x="603.00" y="286.01" font-size="8.35" fill="#111">MCTP1</text>
<text x="603.00" y="292.43" font-size="8.35" fill="#ff2020">IFIT3</text>
<text x="603.00" y="298.85" font-size="8.35" fill="#111">RSAD2</text>
<text x="603.00" y="305.27" font-size="8.35" fill="#ff2020">IFIT1</text>
<text transform="translate(462.25,308.3) rotate(90)" font-size="8.4" fill="#111">Control</text>
<text transform="translate(500.55,308.3) rotate(90)" font-size="8.4" fill="#111">TADA2B KO</text>
<text transform="translate(538.85,308.3) rotate(90)" font-size="8.4" fill="#111">TAF5L KO</text>
<text transform="translate(577.15,308.3) rotate(90)" font-size="8.4" fill="#111">TADA1 KO</text>
<defs><linearGradient id="cb" x1="0" y1="1" x2="0" y2="0">
<stop offset="0.0000" stop-color="#4575B4"/>
<stop offset="0.1667" stop-color="#91BFDB"/>
<stop offset="0.3333" stop-color="#E0F3F8"/>
<stop offset="0.5000" stop-color="#FFFFBF"/>
<stop offset="0.6667" stop-color="#FEE090"/>
<stop offset="0.8333" stop-color="#FC8D59"/>
<stop offset="1.0000" stop-color="#D73027"/>
</linearGradient></defs>
<rect x="650.70" y="27.60" width="8.90" height="134.10" fill="url(#cb)"/>
<text x="663.30" y="53.50" font-size="8.40" fill="#111">1</text>
<text x="663.30" y="75.40" font-size="8.40" fill="#111">0.5</text>
<text x="663.30" y="98.20" font-size="8.40" fill="#111">0</text>
<text x="663.30" y="120.60" font-size="8.40" fill="#111">-0.5</text>
<text x="663.30" y="142.80" font-size="8.40" fill="#111">-1</text>
<text x="642.80" y="7.80" font-size="8.50" fill="#111">Normalized</text>
<text x="642.80" y="17.60" font-size="8.50" fill="#111">expression</text>
<path d="M441.2,26.91V33.33M441.2,26.91H445.5M441.2,33.33H445.5M441.3,51.79V105.35M441.3,51.79H443.5M441.3,105.35H442.8M441.50,229.14H442.22M441.50,269.67H442.56M441.50,229.14V269.67M440.3,187.41V249.40M440.3,187.41H442.6M440.3,249.40H441.5M438.5,78.57V218.41M438.5,78.57H441.3M438.5,218.41H440.3M428.9,30.12V148.49M428.9,30.12H441.2M428.9,148.49H438.5" stroke="#666" stroke-width="0.6" fill="none"/>
<path d="M445.20,46.17H445.50M445.20,52.59H445.50M445.20,46.17V52.59M445.20,49.38H445.20M445.20,59.01H445.50M445.20,49.38V59.01M444.30,54.20H445.20M445.20,65.43H445.50M445.20,71.85H445.50M445.20,65.43V71.85M445.20,68.64H445.20M445.20,78.27H445.50M445.20,68.64V78.27M444.30,73.45H445.20M444.30,54.20V73.45M443.5,39.75V63.82M443.5,39.75H445.5M443.5,63.82H444.3M443.60,84.69H445.50M444.50,91.11H445.50M444.50,97.53H445.50M444.50,91.11V97.53M443.60,94.32H444.50M443.60,84.69V94.32M442.80,89.50H443.60M445.03,103.95H445.50M445.20,110.37H445.50M445.20,116.79H445.50M445.20,110.37V116.79M445.03,113.58H445.20M445.03,103.95V113.58M444.17,108.77H445.03M445.20,123.21H445.50M445.20,129.63H445.50M445.20,123.21V129.63M445.20,126.42H445.20M445.20,136.05H445.50M445.20,142.47H445.50M445.20,148.89H445.50M445.20,142.47V148.89M445.20,145.68H445.20M445.20,136.05V145.68M445.20,140.87H445.20M445.20,126.42V140.87M444.17,133.64H445.20M444.17,108.77V133.64M442.80,121.20H444.17M442.80,89.50V121.20M444.93,155.31H445.50M444.93,161.73H445.50M444.93,155.31V161.73M444.43,158.52H444.93M444.43,168.15H445.50M444.43,158.52V168.15M443.78,163.33H444.43M444.83,174.57H445.50M445.20,180.99H445.50M445.20,187.41H445.50M445.20,180.99V187.41M444.83,184.20H445.20M444.83,174.57V184.20M443.78,179.38H444.83M443.78,163.33V179.38M442.60,171.36H443.78M444.24,193.83H445.50M444.24,200.25H445.50M444.24,193.83V200.25M443.32,197.04H444.24M444.29,206.67H445.50M444.29,213.09H445.50M444.29,206.67V213.09M443.32,209.88H444.29M443.32,197.04V209.88M442.60,203.46H443.32M442.60,171.36V203.46M443.01,219.51H445.50M443.01,225.93H445.50M443.01,219.51V225.93M442.22,222.72H443.01M442.95,232.35H445.50M442.95,238.77H445.50M442.95,232.35V238.77M442.22,235.56H442.95M442.22,222.72V235.56M443.57,245.19H445.50M444.65,251.61H445.50M445.20,258.03H445.50M445.20,264.45H445.50M445.20,258.03V264.45M444.65,261.24H445.20M444.65,251.61V261.24M443.57,256.43H444.65M443.57,245.19V256.43M442.56,250.81H443.57M444.98,270.87H445.50M444.98,277.29H445.50M444.98,270.87V277.29M444.17,274.08H444.98M444.17,283.71H445.50M444.17,274.08V283.71M443.59,278.89H444.17M445.15,290.13H445.50M445.15,296.55H445.50M445.15,290.13V296.55M444.71,293.34H445.15M444.71,302.97H445.50M444.71,293.34V302.97M443.59,298.15H444.71M443.59,278.89V298.15M442.56,288.52H443.59M442.56,250.81V288.52" stroke="#111" stroke-width="0.7" fill="none"/>
<path d="M26.9,298.1 V583.2 H242.6" stroke="#555" stroke-width="1.1" fill="none"/>
<line x1="21.30" y1="580.90" x2="26.90" y2="580.90" stroke="#444" stroke-width="1.00"/>
<text x="19.80" y="583.80" font-size="8.00" text-anchor="end" fill="#222">0</text>
<line x1="21.30" y1="516.90" x2="26.90" y2="516.90" stroke="#444" stroke-width="1.00"/>
<text x="19.80" y="519.80" font-size="8.00" text-anchor="end" fill="#222">10</text>
<line x1="21.30" y1="453.00" x2="26.90" y2="453.00" stroke="#444" stroke-width="1.00"/>
<text x="19.80" y="455.90" font-size="8.00" text-anchor="end" fill="#222">20</text>
<line x1="21.30" y1="388.20" x2="26.90" y2="388.20" stroke="#444" stroke-width="1.00"/>
<text x="19.80" y="391.10" font-size="8.00" text-anchor="end" fill="#222">30</text>
<line x1="21.30" y1="324.50" x2="26.90" y2="324.50" stroke="#444" stroke-width="1.00"/>
<text x="19.80" y="327.40" font-size="8.00" text-anchor="end" fill="#222">40</text>
<line x1="32.40" y1="583.20" x2="32.40" y2="587.60" stroke="#333" stroke-width="1.00"/>
<text x="32.40" y="596.00" font-size="8.00" text-anchor="middle" fill="#222">-5</text>
<line x1="99.00" y1="583.20" x2="99.00" y2="587.60" stroke="#333" stroke-width="1.00"/>
<text x="99.00" y="596.00" font-size="8.00" text-anchor="middle" fill="#222">0</text>
<line x1="147.50" y1="583.20" x2="147.50" y2="587.60" stroke="#333" stroke-width="1.00"/>
<text x="147.50" y="596.00" font-size="8.00" text-anchor="middle" fill="#222">5</text>
<line x1="217.40" y1="583.20" x2="217.40" y2="587.60" stroke="#333" stroke-width="1.00"/>
<text x="217.40" y="596.00" font-size="8.00" text-anchor="middle" fill="#222">10</text>
<text x="103.40" y="607.00" font-size="8.40" text-anchor="middle" fill="#222">Log2 Fold Change</text>
<text transform="translate(6.6,434.0) rotate(-90)" font-size="8.4" text-anchor="middle" fill="#222">-Log10 Adjusted P-value</text>
<path d="M109.7 487.0h0M107.5 496.9h0M108.4 497.4h0M110.4 500.6h0M111.3 500.8h0M112.4 500.2h0M110.6 504.8h0M110.8 505.9h0M93.6 507.2h0M109.3 508.0h0M106.2 508.8h0M110.7 508.7h0M109.6 509.3h0M108.0 510.1h0M111.4 510.9h0M107.8 511.9h0M108.9 511.3h0M109.5 511.9h0M117.0 511.6h0M92.4 512.9h0M106.1 512.8h0M106.8 512.4h0M111.3 512.1h0M119.3 512.4h0M106.8 513.0h0M111.1 513.7h0M111.7 513.2h0M91.9 514.8h0M95.6 514.7h0M108.1 514.0h0M110.8 514.2h0M112.7 514.3h0M88.1 515.7h0M105.1 515.7h0M107.0 515.7h0M107.5 515.1h0M107.4 515.6h0M111.9 515.2h0M116.8 515.1h0M105.9 517.0h0M106.3 516.6h0M107.1 516.0h0M107.2 516.4h0M109.3 516.9h0M109.7 516.0h0M111.2 516.4h0M112.3 516.8h0M115.0 516.2h0M116.0 516.7h0M92.7 517.2h0M107.0 517.2h0M108.3 517.2h0M108.1 517.2h0M108.6 517.2h0M109.2 517.4h0M110.2 517.7h0M114.5 518.0h0M116.9 517.4h0M92.1 518.5h0M92.4 518.9h0M105.9 518.4h0M106.9 518.1h0M108.0 518.8h0M110.2 518.6h0M110.2 518.5h0M110.0 518.5h0M111.3 518.9h0M116.9 518.2h0M91.9 519.7h0M91.9 519.0h0M106.6 519.2h0M106.3 519.9h0M106.5 519.1h0M107.1 519.4h0M107.3 519.2h0M109.4 519.8h0M109.0 519.3h0M112.9 519.6h0M113.1 519.0h0M114.1 519.3h0M87.2 520.4h0M90.2 520.8h0M90.5 520.7h0M91.2 520.6h0M91.7 520.2h0M92.8 520.0h0M107.4 520.0h0M107.2 520.2h0M107.5 520.9h0M107.4 520.7h0M107.7 520.3h0M111.7 520.6h0M113.2 520.0h0M88.1 521.8h0M89.9 521.8h0M90.6 521.1h0M92.2 521.2h0M93.6 521.8h0M105.9 521.6h0M108.1 521.2h0M109.9 522.0h0M110.2 521.3h0M112.8 521.7h0M116.6 521.8h0M116.5 521.3h0M90.6 522.5h0M94.4 522.3h0M105.2 522.2h0M105.3 522.6h0M106.4 522.7h0M106.8 522.9h0M106.7 522.2h0M107.2 522.4h0M108.4 522.3h0M110.8 522.9h0M110.1 522.2h0M110.3 522.2h0M111.6 522.7h0M111.4 522.7h0M111.1 522.5h0M112.4 522.1h0M113.5 522.5h0M115.7 522.9h0M117.0 522.2h0M95.8 523.7h0M105.8 524.0h0M106.8 523.5h0M106.9 523.7h0M106.5 523.2h0M107.3 523.2h0M108.6 523.7h0M110.5 523.2h0M111.5 523.5h0M111.7 523.9h0M112.5 523.4h0M112.8 523.3h0M113.1 523.3h0M115.6 523.9h0M91.4 524.3h0M91.9 524.9h0M91.1 524.1h0M92.5 524.6h0M93.5 524.9h0M94.1 525.0h0M95.5 524.9h0M105.8 524.6h0M106.6 524.5h0M107.6 524.6h0M107.2 524.0h0M108.2 524.6h0M108.7 524.4h0M109.6 524.3h0M110.6 524.3h0M110.3 524.2h0M111.1 524.1h0M112.8 524.2h0M112.7 525.0h0M114.0 524.4h0M114.3 524.4h0M116.8 524.3h0M118.9 524.0h0M90.7 525.7h0M90.6 525.4h0M91.7 525.3h0M91.5 525.3h0M105.4 525.8h0M109.6 525.6h0M109.7 525.6h0M112.3 525.7h0M113.1 525.1h0M113.2 525.9h0M114.6 525.9h0M114.5 525.7h0M117.0 525.3h0M88.1 526.2h0M91.6 526.3h0M91.9 526.6h0M92.9 526.5h0M92.1 526.6h0M92.3 526.0h0M95.7 526.1h0M95.6 526.4h0M105.3 527.0h0M105.0 526.2h0M105.4 526.1h0M106.7 526.7h0M106.9 526.1h0M107.3 526.7h0M108.6 526.5h0M108.5 526.1h0M108.4 526.8h0M109.3 526.2h0M109.2 526.7h0M109.8 526.1h0M109.8 526.9h0M109.6 526.1h0M109.5 526.3h0M110.0 526.4h0M111.1 526.7h0M111.7 526.9h0M112.3 526.7h0M113.6 526.4h0M114.6 526.9h0M115.2 526.1h0M89.4 527.5h0M91.1 528.0h0M92.4 527.5h0M92.8 527.2h0M94.9 527.9h0M94.1 527.2h0M94.3 527.6h0M94.0 527.8h0M94.9 527.2h0M95.5 527.2h0M105.9 527.8h0M105.2 527.4h0M106.2 527.3h0M107.7 527.9h0M107.4 527.4h0M108.1 527.1h0M109.7 527.6h0M110.1 527.5h0M110.2 527.0h0M110.5 527.9h0M111.8 527.9h0M112.7 527.3h0M114.4 527.4h0M115.7 528.0h0M117.0 527.4h0M85.5 528.3h0M87.9 528.7h0M89.1 528.3h0M90.8 528.9h0M91.5 528.4h0M91.6 528.8h0M92.9 528.7h0M93.3 528.2h0M94.5 528.6h0M95.9 528.3h0M95.6 528.2h0M95.7 528.2h0M96.6 528.3h0M104.8 528.8h0M104.8 528.5h0M106.1 528.0h0M106.1 528.8h0M112.3 528.2h0M112.9 528.3h0M112.2 528.2h0M113.7 528.0h0M113.8 528.1h0M113.8 528.6h0M113.9 528.8h0M114.7 528.2h0M116.8 528.2h0M87.7 529.3h0M89.6 529.4h0M90.1 529.2h0M90.6 529.7h0M90.5 529.3h0M91.1 529.8h0M91.9 529.5h0M91.5 529.6h0M91.7 529.5h0M91.1 529.2h0M91.4 529.1h0M91.1 529.6h0M92.4 529.6h0M93.0 529.1h0M92.6 529.3h0M93.3 529.3h0M93.0 529.7h0M94.2 529.6h0M96.0 529.9h0M95.2 529.1h0M95.4 529.8h0M106.3 529.0h0M108.5 529.2h0M108.2 529.4h0M109.9 529.5h0M112.0 529.3h0M112.9 529.2h0M112.1 529.8h0M112.6 529.1h0M112.5 529.2h0M113.2 529.8h0M113.5 529.5h0M113.3 529.9h0M113.2 529.4h0M115.8 529.9h0M115.5 529.7h0M116.9 529.0h0M87.7 530.2h0M89.2 530.9h0M89.0 530.7h0M90.2 530.8h0M91.9 530.4h0M92.0 530.1h0M91.1 530.4h0M92.5 530.3h0M92.9 530.4h0M93.4 530.9h0M95.8 530.1h0M95.5 530.6h0M96.7 530.5h0M105.0 530.7h0M105.4 530.5h0M105.8 530.1h0M107.6 530.4h0M107.4 530.7h0M109.0 530.7h0M109.0 530.4h0M110.6 530.8h0M112.4 530.7h0M112.1 530.2h0M112.7 530.8h0M113.4 530.4h0M113.2 530.5h0M113.4 530.4h0M115.0 530.2h0M114.6 530.1h0M114.4 531.0h0M115.6 530.9h0M115.8 530.0h0M115.3 530.2h0M120.0 530.9h0M86.3 531.7h0M86.2 531.8h0M86.9 531.2h0M88.0 531.3h0M88.2 532.0h0M89.4 531.9h0M89.6 531.6h0M91.0 531.2h0M91.9 531.1h0M91.7 531.6h0M91.3 531.5h0M92.0 531.6h0M92.5 531.8h0M92.8 531.1h0M92.5 531.4h0M93.2 531.8h0M95.5 531.7h0M95.9 531.9h0M95.5 531.5h0M95.2 531.8h0M96.2 531.7h0M104.2 531.4h0M105.0 531.1h0M106.0 531.3h0M105.5 532.0h0M106.9 531.5h0M107.1 531.3h0M107.8 531.1h0M107.9 531.3h0M107.7 531.7h0M107.3 531.8h0M108.8 531.3h0M108.1 531.4h0M108.7 531.5h0M110.0 531.5h0M110.4 531.9h0M110.1 531.6h0M110.4 531.9h0M111.9 532.0h0M111.9 531.0h0M111.4 531.7h0M112.9 532.0h0M115.9 531.8h0M115.6 531.2h0M115.8 531.8h0M116.0 531.7h0M115.5 531.3h0M116.9 531.3h0M118.5 531.1h0M119.0 531.5h0M88.4 532.3h0M88.2 532.9h0M89.0 532.4h0M89.4 532.3h0M90.7 532.1h0M90.1 532.2h0M90.8 532.6h0M91.5 532.4h0M91.5 532.5h0M92.9 532.0h0M93.5 532.9h0M93.2 532.8h0M93.8 532.6h0M93.7 533.0h0M94.9 532.2h0M94.7 532.4h0M94.8 532.2h0M94.2 532.4h0M96.7 532.6h0M104.3 532.3h0M104.8 532.9h0M104.7 532.3h0M104.7 532.5h0M105.8 532.4h0M106.6 532.7h0M106.2 532.9h0M106.6 532.5h0M106.2 532.3h0M107.5 532.4h0M108.2 532.6h0M108.2 532.3h0M108.7 532.7h0M109.2 532.2h0M111.2 532.9h0M111.1 532.6h0M113.3 532.9h0M113.3 532.1h0M113.6 532.3h0M114.3 532.5h0M114.9 532.9h0M114.3 532.9h0M114.1 532.3h0M114.5 532.0h0M116.0 532.8h0M115.3 532.3h0M115.1 532.9h0M115.1 532.1h0M115.6 532.6h0M116.2 532.2h0M117.4 532.1h0M87.4 533.4h0M87.9 533.4h0M88.8 533.5h0M88.4 533.4h0M88.2 533.8h0M90.9 533.5h0M91.0 533.2h0M91.2 533.0h0M92.2 533.8h0M92.4 533.3h0M92.5 533.8h0M92.2 534.0h0M92.4 533.5h0M93.7 533.4h0M94.2 533.7h0M95.7 533.4h0M104.2 533.2h0M105.8 533.9h0M105.9 533.8h0M106.0 533.7h0M106.9 533.0h0M108.9 533.1h0M108.4 533.2h0M108.9 533.6h0M109.3 533.2h0M112.5 533.3h0M114.8 533.0h0M114.7 533.4h0M114.2 533.1h0M116.6 533.3h0M116.8 533.3h0M117.6 533.6h0M118.3 533.0h0M90.6 534.7h0M91.7 534.7h0M92.2 534.1h0M92.5 534.6h0M92.3 534.2h0M92.3 534.9h0M93.4 534.6h0M94.6 534.2h0M94.4 535.0h0M95.1 534.4h0M96.3 534.9h0M104.4 534.3h0M104.6 534.4h0M106.0 534.2h0M106.5 534.5h0M107.9 534.4h0M107.2 534.8h0M108.4 534.6h0M109.3 534.9h0M110.2 534.3h0M110.4 534.7h0M110.3 534.1h0M111.4 534.4h0M111.4 534.3h0M112.5 534.8h0M112.5 534.3h0M115.0 534.9h0M114.1 534.7h0M117.1 534.8h0M117.5 534.7h0M118.3 534.9h0M119.9 534.6h0M83.9 535.5h0M84.1 535.5h0M86.3 535.7h0M87.9 535.8h0M89.7 535.0h0M90.8 535.7h0M90.3 535.3h0M91.2 535.4h0M92.7 535.7h0M92.6 536.0h0M93.5 535.9h0M93.0 535.4h0M93.3 535.2h0M93.4 535.4h0M94.7 535.7h0M94.3 535.5h0M94.3 535.8h0M95.3 535.3h0M95.9 535.4h0M95.9 535.8h0M96.5 536.0h0M96.1 535.4h0M96.8 536.0h0M96.1 535.3h0M104.0 535.2h0M105.6 535.5h0M105.5 535.8h0M106.5 535.4h0M106.7 535.1h0M106.7 535.6h0M107.6 535.2h0M107.5 535.3h0M107.8 535.8h0M108.6 535.7h0M108.9 535.0h0M109.3 535.7h0M109.9 535.3h0M109.2 535.6h0M109.7 535.5h0M110.9 535.4h0M111.1 535.4h0M113.2 535.2h0M114.0 535.5h0M113.8 535.1h0M114.4 535.7h0M115.6 535.6h0M115.3 535.4h0M115.5 535.0h0M115.9 535.7h0M116.4 535.4h0M117.5 535.2h0M117.7 535.9h0M118.0 535.3h0M118.7 535.6h0M128.4 535.0h0M86.1 536.6h0M88.0 536.9h0M88.8 536.2h0M90.2 536.1h0M90.4 536.8h0M91.5 536.1h0M91.3 536.2h0M91.0 536.4h0M93.2 536.4h0M93.2 536.1h0M93.1 536.9h0M94.2 536.7h0M94.2 536.1h0M95.5 536.5h0M96.2 536.7h0M104.9 536.9h0M104.5 536.2h0M104.2 536.3h0M105.7 536.3h0M105.5 536.4h0M105.7 536.4h0M106.7 536.7h0M106.4 536.1h0M106.3 536.2h0M106.7 536.7h0M107.5 536.6h0M107.6 536.5h0M108.5 536.2h0M108.2 536.5h0M108.2 536.5h0M109.6 536.4h0M109.3 536.6h0M109.3 536.9h0M109.4 536.7h0M111.0 536.5h0M110.9 536.4h0M110.0 537.0h0M111.6 536.9h0M112.2 537.0h0M113.5 536.7h0M113.7 536.0h0M114.3 536.3h0M115.9 536.1h0M115.8 536.8h0M116.4 536.4h0M116.1 536.4h0M116.5 536.3h0M117.5 537.0h0M117.9 536.7h0M119.0 536.5h0M118.3 536.2h0M119.3 536.0h0M119.4 536.1h0M124.2 536.8h0M86.5 537.4h0M88.8 537.2h0M88.4 537.3h0M88.9 537.3h0M89.8 537.8h0M91.0 537.6h0M92.2 537.7h0M93.3 537.1h0M93.7 537.8h0M94.8 537.2h0M96.2 537.7h0M104.3 537.3h0M105.7 537.9h0M105.7 537.2h0M106.4 537.7h0M108.6 537.2h0M108.8 537.6h0M108.7 537.3h0M108.1 537.4h0M108.3 537.2h0M109.9 537.1h0M110.0 537.2h0M110.0 537.8h0M109.3 537.6h0M110.2 537.2h0M111.6 537.3h0M111.7 538.0h0M112.7 537.7h0M112.7 537.9h0M114.1 537.8h0M115.8 537.5h0M115.2 537.1h0M117.1 537.3h0M123.1 537.6h0M82.2 538.6h0M86.8 538.6h0M86.6 538.3h0M87.4 538.5h0M88.0 538.9h0M88.6 538.4h0M89.0 538.2h0M89.5 538.7h0M89.1 538.1h0M91.7 538.5h0M92.3 538.6h0M92.2 538.6h0M93.9 538.9h0M93.7 538.2h0M94.3 538.8h0M94.2 538.1h0M95.4 538.8h0M96.1 538.7h0M96.7 538.1h0M96.6 538.7h0M104.0 538.8h0M104.4 538.6h0M105.1 538.4h0M106.8 538.3h0M106.1 538.6h0M106.7 538.1h0M106.4 538.4h0M106.2 538.9h0M107.7 538.4h0M107.6 538.8h0M108.0 538.6h0M107.7 538.6h0M109.0 538.3h0M108.1 538.3h0M109.3 538.2h0M109.5 538.2h0M110.0 538.8h0M110.4 538.4h0M110.1 538.9h0M110.7 538.0h0M111.2 538.0h0M111.3 538.8h0M111.8 538.8h0M112.5 538.7h0M112.0 538.3h0M113.2 538.3h0M113.4 539.0h0M114.4 538.5h0M114.7 538.1h0M115.5 538.9h0M116.0 538.8h0M116.7 538.3h0M116.2 538.0h0M116.1 538.8h0M117.8 538.7h0M118.0 538.8h0M117.5 538.9h0M117.0 538.5h0M117.7 538.1h0M119.0 539.0h0M86.0 539.4h0M88.2 539.7h0M88.2 539.4h0M88.3 539.0h0M88.5 540.0h0M89.9 539.6h0M90.8 539.3h0M90.9 539.5h0M92.0 539.3h0M93.3 539.1h0M94.4 539.7h0M94.1 539.0h0M96.3 539.1h0M103.5 539.6h0M104.5 539.8h0M104.2 539.3h0M104.2 539.4h0M105.2 539.8h0M108.0 539.9h0M108.3 539.5h0M108.5 539.1h0M109.3 539.4h0M109.9 539.6h0M109.6 539.5h0M110.5 539.5h0M110.5 539.8h0M110.6 539.7h0M111.7 539.3h0M111.2 539.9h0M112.7 539.5h0M113.0 539.8h0M114.2 539.8h0M115.5 539.5h0M116.3 539.4h0M116.6 539.5h0M116.3 539.3h0M118.9 539.1h0M118.8 539.5h0M123.4 539.4h0M86.6 540.9h0M88.7 540.5h0M88.4 540.5h0M89.9 540.2h0M89.9 540.1h0M89.3 540.3h0M90.2 540.4h0M92.9 540.4h0M92.9 540.3h0M92.3 540.1h0M92.5 540.3h0M93.5 540.7h0M94.0 540.9h0M94.1 540.9h0M94.8 540.2h0M95.6 540.6h0M95.8 540.2h0M96.6 540.9h0M96.5 540.1h0M96.9 540.1h0M96.4 540.5h0M104.3 540.3h0M105.2 540.0h0M106.8 540.8h0M106.2 541.0h0M107.6 540.6h0M107.9 540.3h0M107.5 540.8h0M107.8 540.0h0M108.7 540.4h0M109.9 540.3h0M109.1 540.1h0M109.0 540.9h0M110.0 540.3h0M110.7 540.3h0M111.5 540.3h0M111.2 540.9h0M111.3 541.0h0M112.6 540.3h0M112.0 540.9h0M112.1 540.4h0M112.7 540.1h0M113.7 540.1h0M114.4 540.4h0M115.7 540.4h0M115.7 540.1h0M116.5 540.1h0M116.9 540.8h0M117.1 540.1h0M117.7 540.7h0M117.0 540.2h0M118.3 540.9h0M118.2 540.4h0M119.6 540.1h0M119.4 540.4h0M123.8 540.1h0M82.5 541.6h0M87.6 541.4h0M87.9 541.6h0M87.4 541.2h0M88.1 541.2h0M89.7 541.7h0M89.4 541.7h0M89.1 541.1h0M90.2 541.3h0M91.8 541.5h0M92.9 541.1h0M92.7 541.8h0M92.9 541.3h0M94.3 541.1h0M95.0 541.2h0M95.1 542.0h0M95.1 541.6h0M96.7 541.5h0M104.4 541.6h0M104.3 541.7h0M104.3 541.1h0M105.6 541.8h0M106.2 541.1h0M107.2 541.5h0M108.8 541.4h0M108.0 542.0h0M109.3 542.0h0M109.6 541.4h0M109.8 541.9h0M111.4 541.3h0M111.4 541.4h0M112.9 541.0h0M112.7 541.0h0M112.5 541.4h0M112.3 541.6h0M113.9 541.8h0M113.9 541.8h0M113.8 541.1h0M115.7 541.2h0M115.7 541.1h0M116.6 541.1h0M117.3 541.4h0M118.8 541.4h0M120.9 541.5h0M120.8 541.2h0M121.4 541.5h0M121.9 541.0h0M122.4 541.1h0M123.6 541.9h0M126.1 541.8h0M78.7 542.3h0M83.7 542.9h0M86.8 542.7h0M87.6 542.6h0M87.4 542.3h0M90.3 542.5h0M91.9 542.9h0M91.6 542.7h0M92.9 542.8h0M92.9 542.7h0M92.7 542.2h0M93.0 542.5h0M92.6 542.0h0M94.6 542.9h0M94.3 542.3h0M94.1 542.8h0M95.9 542.2h0M95.9 542.3h0M95.8 542.9h0M96.9 542.0h0M96.1 542.2h0M96.8 542.9h0M96.0 542.6h0M96.8 542.2h0M103.3 542.5h0M103.4 542.2h0M103.4 542.2h0M104.4 542.9h0M104.1 542.4h0M104.4 542.8h0M104.7 542.9h0M105.1 542.5h0M107.0 542.0h0M106.3 542.7h0M107.1 542.1h0M108.4 542.8h0M109.6 542.3h0M110.4 542.4h0M111.2 542.3h0M111.5 542.4h0M112.5 542.4h0M113.7 543.0h0M113.4 542.9h0M114.4 542.3h0M114.6 542.7h0M115.8 542.7h0M115.9 542.2h0M115.8 542.0h0M116.6 542.9h0M117.3 542.2h0M117.3 542.1h0M118.8 542.6h0M119.8 542.0h0M120.0 542.3h0M119.1 542.4h0M120.0 542.9h0M121.7 542.4h0M79.2 543.9h0M81.3 543.8h0M84.2 543.0h0M86.4 543.4h0M87.6 543.5h0M88.8 543.7h0M88.4 543.7h0M89.7 543.2h0M89.3 543.1h0M90.1 543.1h0M91.6 543.3h0M91.1 543.7h0M92.6 543.6h0M93.0 543.4h0M93.8 543.7h0M93.7 543.0h0M93.3 543.1h0M94.5 543.6h0M95.8 543.5h0M95.8 543.1h0M96.8 543.2h0M103.7 543.6h0M104.4 543.8h0M104.6 543.5h0M105.0 543.7h0M104.3 543.6h0M105.1 543.2h0M106.0 543.4h0M105.7 543.6h0M106.5 543.7h0M107.5 543.1h0M108.1 543.1h0M108.1 543.3h0M108.6 543.9h0M108.1 543.6h0M109.3 543.5h0M110.7 543.0h0M110.7 543.4h0M110.4 543.5h0M111.2 544.0h0M111.2 543.6h0M112.2 543.7h0M113.8 543.7h0M113.6 543.7h0M115.9 543.5h0M115.9 543.7h0M115.1 543.3h0M116.0 543.2h0M117.9 544.0h0M117.8 543.8h0M117.5 543.3h0M117.9 543.5h0M117.2 543.5h0M118.9 543.6h0M118.6 543.0h0M118.3 543.1h0M119.5 543.3h0M120.2 543.7h0M120.7 543.2h0M120.7 543.9h0M120.9 543.7h0M77.4 544.4h0M82.6 544.4h0M83.5 544.4h0M86.0 544.4h0M87.1 544.1h0M87.1 544.5h0M88.3 544.4h0M89.0 544.9h0M88.4 544.2h0M88.1 544.1h0M90.7 544.5h0M91.9 544.5h0M91.4 544.4h0M92.0 544.7h0M92.6 544.8h0M94.1 544.2h0M94.4 544.0h0M94.4 544.1h0M95.6 544.3h0M103.4 544.5h0M104.0 544.8h0M103.6 544.8h0M103.6 544.4h0M105.1 544.9h0M105.9 544.6h0M106.3 544.8h0M106.3 544.1h0M106.5 544.4h0M107.7 544.7h0M108.3 544.3h0M108.1 544.3h0M109.3 544.7h0M109.2 544.7h0M110.5 544.3h0M112.2 544.2h0M114.3 544.3h0M114.6 544.3h0M115.8 544.5h0M116.2 544.7h0M116.7 544.4h0M117.8 544.5h0M117.6 544.9h0M119.8 544.8h0M119.5 544.1h0M120.3 545.0h0M120.1 544.9h0M120.8 544.6h0M120.9 544.7h0M120.8 544.6h0M121.3 544.2h0M82.3 545.2h0M85.2 545.5h0M86.3 545.3h0M86.9 545.8h0M88.3 545.3h0M88.2 545.5h0M89.6 545.6h0M89.6 545.9h0M89.7 546.0h0M90.6 545.1h0M90.7 546.0h0M90.9 546.0h0M92.9 545.1h0M94.0 545.9h0M93.6 545.1h0M94.3 545.1h0M94.4 545.8h0M95.6 546.0h0M96.4 545.1h0M97.0 546.0h0M96.8 545.1h0M103.3 546.0h0M104.1 545.9h0M104.7 545.7h0M104.7 545.7h0M106.5 545.7h0M106.2 546.0h0M107.4 545.1h0M107.1 545.8h0M107.8 545.4h0M108.5 545.7h0M109.0 546.0h0M110.4 545.6h0M110.3 545.1h0M110.5 546.0h0M111.7 545.6h0M113.5 545.5h0M114.8 545.7h0M115.8 545.8h0M115.4 545.5h0M116.3 545.8h0M116.8 545.6h0M116.3 545.4h0M118.5 545.6h0M118.1 545.9h0M119.3 545.0h0M120.6 545.9h0M121.9 545.4h0M123.1 545.8h0M85.5 546.1h0M85.4 546.4h0M86.4 547.0h0M87.4 546.6h0M87.5 546.6h0M88.8 546.3h0M88.9 546.1h0M88.7 546.8h0M88.8 546.3h0M89.1 546.5h0M89.3 546.9h0M90.7 546.7h0M91.5 546.3h0M92.7 546.2h0M93.5 546.4h0M93.8 546.8h0M94.7 546.6h0M103.5 546.3h0M103.5 546.2h0M105.5 547.0h0M105.8 546.1h0M105.1 546.8h0M109.3 547.0h0M110.2 546.2h0M110.8 546.7h0M111.5 546.9h0M112.3 546.7h0M112.6 546.7h0M113.4 546.6h0M114.4 546.3h0M114.8 546.0h0M114.9 546.1h0M116.2 546.8h0M116.5 546.2h0M117.9 546.1h0M117.1 546.1h0M117.3 546.8h0M117.3 547.0h0M119.9 546.2h0M119.0 546.5h0M122.8 546.2h0M122.6 546.2h0M123.5 546.2h0M126.1 546.0h0M85.8 547.6h0M86.9 547.3h0M86.7 547.4h0M89.0 547.3h0M88.6 547.9h0M88.1 547.8h0M89.6 547.1h0M89.6 547.4h0M89.7 547.6h0M89.7 547.5h0M89.1 547.0h0M90.5 547.7h0M91.1 547.3h0M94.9 547.1h0M94.6 547.4h0M95.8 547.0h0M95.8 547.6h0M96.5 547.2h0M96.5 547.8h0M96.9 547.3h0M103.9 547.8h0M105.7 547.6h0M106.5 547.1h0M107.8 547.9h0M107.4 547.2h0M108.9 547.7h0M108.1 547.6h0M109.9 547.5h0M109.1 547.8h0M110.3 547.5h0M110.2 547.3h0M111.7 547.0h0M112.3 547.8h0M113.5 547.7h0M113.1 547.5h0M114.9 547.4h0M116.2 547.8h0M116.5 547.0h0M117.8 547.1h0M117.2 547.4h0M118.8 547.3h0M119.9 547.1h0M119.1 547.1h0M122.2 547.1h0M123.7 547.6h0M83.2 549.0h0M84.6 548.1h0M84.2 548.7h0M85.2 548.2h0M87.5 548.6h0M88.1 548.7h0M88.6 548.7h0M88.6 548.1h0M89.3 548.8h0M91.4 548.9h0M91.1 548.3h0M92.5 548.0h0M92.1 548.6h0M93.9 548.3h0M93.7 549.0h0M93.5 548.8h0M93.4 548.3h0M95.3 548.4h0M95.7 548.7h0M103.8 548.1h0M103.8 548.2h0M104.7 548.1h0M106.9 548.8h0M106.1 548.7h0M107.0 548.7h0M109.0 548.7h0M109.9 548.2h0M109.4 548.7h0M110.2 548.7h0M110.8 548.2h0M110.1 548.6h0M111.3 548.2h0M111.9 548.3h0M111.3 548.7h0M111.5 548.1h0M114.2 548.1h0M114.2 548.9h0M114.6 549.0h0M115.8 549.0h0M116.4 548.4h0M116.4 548.4h0M116.2 548.9h0M117.8 548.3h0M117.8 548.9h0M117.4 549.0h0M118.9 548.1h0M118.1 548.9h0M118.3 548.6h0M118.3 548.5h0M118.6 548.8h0M120.1 548.7h0M120.4 548.4h0M121.7 548.8h0M122.5 548.6h0M122.6 548.3h0M125.0 548.3h0M124.3 548.8h0M125.7 548.5h0M127.3 548.2h0M131.3 548.6h0M85.8 549.3h0M86.6 549.4h0M87.6 549.4h0M87.3 549.2h0M87.2 549.4h0M87.8 549.9h0M87.8 549.3h0M87.7 549.4h0M88.9 550.0h0M88.7 549.2h0M89.9 549.9h0M89.4 549.5h0M91.4 549.3h0M92.0 549.2h0M92.7 549.1h0M93.5 549.6h0M94.0 549.6h0M94.6 549.2h0M94.0 549.0h0M95.6 549.6h0M95.4 549.5h0M96.0 549.6h0M95.1 549.7h0M103.6 549.3h0M103.1 549.4h0M103.3 549.5h0M103.7 550.0h0M103.3 549.9h0M104.8 549.5h0M104.8 549.3h0M106.1 549.4h0M106.3 549.7h0M107.7 549.5h0M108.9 549.4h0M109.0 549.8h0M108.2 549.6h0M109.2 549.6h0M110.3 550.0h0M111.6 549.6h0M111.7 549.5h0M112.9 549.4h0M113.9 549.3h0M114.0 549.7h0M113.8 549.4h0M114.9 549.5h0M114.0 549.2h0M115.6 549.4h0M115.8 549.7h0M115.3 549.9h0M116.7 549.8h0M116.5 549.7h0M118.0 549.8h0M118.6 549.1h0M119.4 549.6h0M119.0 549.0h0M119.8 549.2h0M120.6 550.0h0M120.7 549.8h0M120.2 549.5h0M121.5 549.7h0M122.3 549.6h0M122.2 549.7h0M124.0 549.2h0M124.2 550.0h0M125.5 549.5h0M137.7 549.2h0M85.3 550.0h0M87.7 550.2h0M87.1 550.4h0M88.2 550.0h0M89.1 550.2h0M91.0 550.9h0M91.9 550.2h0M91.3 550.2h0M92.2 550.1h0M92.2 550.2h0M92.4 550.3h0M93.2 550.4h0M93.1 550.7h0M93.3 550.6h0M93.8 550.1h0M93.1 551.0h0M94.6 550.0h0M95.3 550.5h0M103.8 550.9h0M104.6 550.5h0M105.9 551.0h0M105.2 550.8h0M105.3 550.4h0M105.3 550.3h0M105.5 550.5h0M106.3 550.3h0M106.5 550.6h0M106.2 550.7h0M107.6 550.1h0M107.1 550.8h0M108.7 550.4h0M109.4 550.6h0M109.1 550.1h0M109.3 550.5h0M110.4 550.6h0M110.7 551.0h0M112.0 550.1h0M112.8 550.1h0M113.0 550.3h0M114.4 550.7h0M115.4 551.0h0M115.3 550.2h0M115.9 550.7h0M116.9 550.3h0M116.1 550.1h0M116.1 550.4h0M117.1 550.3h0M118.8 550.9h0M118.6 550.7h0M120.5 550.8h0M121.2 550.9h0M121.5 550.6h0M122.1 550.3h0M122.8 550.4h0M123.4 550.2h0M123.2 550.1h0M123.2 550.2h0M123.8 550.9h0M123.9 550.5h0M123.7 550.3h0M123.6 550.8h0M125.0 550.6h0M124.8 550.0h0M124.9 550.1h0M124.9 550.9h0M127.9 550.1h0M82.1 551.6h0M84.9 551.9h0M86.0 551.7h0M86.0 551.8h0M85.0 551.6h0M86.6 551.2h0M86.5 551.1h0M87.8 551.7h0M87.6 551.8h0M87.6 551.0h0M87.3 551.9h0M88.0 551.5h0M88.0 551.7h0M88.1 551.5h0M90.0 551.2h0M90.1 551.6h0M90.0 551.7h0M90.3 552.0h0M90.6 551.2h0M91.7 551.8h0M91.6 551.6h0M92.8 551.4h0M92.2 551.9h0M92.9 551.4h0M92.1 551.9h0M93.7 551.6h0M94.4 551.8h0M94.9 551.7h0M95.8 551.7h0M96.4 552.0h0M103.4 551.5h0M104.5 551.7h0M104.6 551.0h0M105.1 551.4h0M106.7 551.5h0M106.9 551.4h0M107.4 551.5h0M107.2 551.5h0M108.1 551.8h0M108.5 551.1h0M109.4 551.0h0M110.2 551.7h0M112.1 551.8h0M112.9 551.3h0M113.1 551.7h0M114.6 551.6h0M114.1 551.9h0M114.4 551.7h0M115.9 551.3h0M116.9 551.1h0M116.2 551.1h0M117.6 552.0h0M117.2 551.1h0M119.0 551.6h0M118.2 551.5h0M119.8 551.8h0M119.3 552.0h0M119.3 551.1h0M119.9 551.9h0M120.0 551.6h0M119.6 551.8h0M119.1 551.2h0M121.2 551.3h0M121.0 551.2h0M123.6 551.1h0M123.9 551.5h0M123.3 551.4h0M125.1 551.5h0M125.9 551.9h0M127.5 551.3h0M129.0 551.3h0M131.0 551.8h0M80.9 552.1h0M82.8 552.7h0M83.4 552.7h0M84.8 552.4h0M85.9 552.7h0M86.7 552.2h0M87.8 552.7h0M87.9 552.5h0M88.2 552.1h0M88.9 552.7h0M88.8 552.3h0M88.7 552.3h0M88.1 553.0h0M89.5 552.9h0M90.6 552.9h0M91.1 552.2h0M91.7 552.3h0M93.3 553.0h0M95.0 552.7h0M94.9 552.8h0M96.1 552.2h0M102.6 552.6h0M102.1 552.6h0M103.2 552.4h0M104.2 552.8h0M106.1 552.7h0M106.0 552.7h0M106.0 552.2h0M107.7 552.9h0M107.3 552.1h0M107.4 552.1h0M108.8 552.1h0M110.6 552.3h0M111.2 552.1h0M111.5 552.9h0M111.1 552.1h0M112.5 553.0h0M112.8 552.9h0M113.3 552.7h0M114.2 552.6h0M114.2 552.6h0M116.3 552.8h0M116.8 552.9h0M116.8 552.3h0M117.2 552.7h0M117.2 552.4h0M118.0 552.8h0M119.5 552.7h0M122.1 552.7h0M122.2 552.5h0M122.2 552.7h0M122.2 552.8h0M123.5 552.7h0M125.0 552.6h0M124.2 552.4h0M124.6 553.0h0M124.1 552.6h0M124.0 553.0h0M125.8 552.7h0M125.5 552.8h0M126.3 552.6h0M126.9 552.1h0M84.6 553.5h0M84.3 554.0h0M84.2 554.0h0M85.8 553.5h0M86.1 553.7h0M87.0 553.3h0M86.1 553.9h0M86.9 553.9h0M87.5 553.9h0M89.3 553.3h0M89.6 553.5h0M90.4 553.6h0M90.8 553.4h0M90.8 554.0h0M90.3 554.0h0M91.7 553.6h0M91.6 553.9h0M92.3 553.9h0M92.0 553.4h0M93.7 553.8h0M93.4 553.9h0M93.7 553.6h0M94.4 553.3h0M94.2 553.9h0M95.5 553.7h0M95.9 553.6h0M95.6 553.9h0M96.2 553.8h0M96.8 553.7h0M103.8 553.4h0M104.5 553.3h0M106.2 553.4h0M106.6 553.1h0M108.1 553.1h0M108.0 553.3h0M109.7 553.3h0M110.2 553.1h0M111.8 553.2h0M112.6 553.1h0M112.1 553.0h0M112.3 553.2h0M112.5 553.3h0M113.3 553.1h0M113.6 553.6h0M113.2 553.7h0M114.5 553.9h0M114.9 553.5h0M115.8 553.7h0M115.6 553.5h0M116.7 553.5h0M117.8 553.6h0M117.6 553.8h0M118.4 553.1h0M119.1 553.3h0M120.1 553.7h0M120.6 553.2h0M120.5 553.9h0M121.8 553.5h0M122.8 553.4h0M123.8 553.4h0M123.5 553.6h0M123.3 553.9h0M124.3 553.4h0M124.7 553.6h0M124.8 553.8h0M125.2 553.6h0M128.1 553.2h0M130.0 553.1h0M132.9 553.1h0M84.5 554.7h0M86.1 554.8h0M86.4 554.3h0M86.1 554.5h0M87.8 554.5h0M88.5 554.1h0M88.6 554.0h0M88.6 554.6h0M89.1 554.4h0M90.6 554.9h0M90.8 554.4h0M91.9 554.2h0M92.7 554.7h0M92.1 554.9h0M93.6 554.4h0M93.7 555.0h0M93.0 554.2h0M94.6 554.1h0M94.1 554.0h0M95.7 554.4h0M103.4 554.1h0M103.9 554.5h0M103.9 554.2h0M104.6 554.7h0M104.1 554.5h0M104.2 554.3h0M105.4 554.0h0M105.9 554.1h0M105.5 554.9h0M105.9 554.0h0M106.9 554.3h0M106.9 554.6h0M106.8 554.8h0M107.3 554.4h0M108.2 554.8h0M108.5 554.9h0M109.8 554.1h0M109.4 554.3h0M109.0 554.9h0M109.9 554.2h0M110.1 555.0h0M111.6 554.1h0M112.0 554.7h0M114.1 554.5h0M115.5 554.7h0M115.0 554.4h0M115.3 554.5h0M115.9 554.3h0M115.3 554.2h0M116.7 554.7h0M117.0 554.1h0M119.0 554.9h0M119.6 555.0h0M120.7 554.9h0M121.6 554.1h0M122.4 554.2h0M122.7 554.3h0M124.0 554.6h0M124.5 554.0h0M124.3 554.6h0M124.9 554.4h0M124.8 554.3h0M125.7 554.2h0M125.8 554.6h0M126.0 554.5h0M126.7 554.7h0M126.3 554.1h0M126.2 554.7h0M134.0 554.4h0M82.3 555.9h0M85.6 555.1h0M85.2 555.6h0M88.4 556.0h0M88.0 555.4h0M89.5 555.8h0M89.5 555.1h0M89.4 555.9h0M90.2 555.0h0M90.1 555.1h0M91.5 556.0h0M91.6 555.4h0M92.2 555.9h0M92.3 555.1h0M93.0 555.8h0M95.5 555.3h0M96.5 555.2h0M97.1 555.8h0M103.4 555.2h0M104.0 555.0h0M105.4 555.7h0M105.3 555.5h0M107.7 555.5h0M108.3 555.7h0M110.7 556.0h0M113.8 555.7h0M113.8 555.7h0M114.4 555.6h0M115.7 555.9h0M116.8 555.3h0M116.4 555.9h0M116.3 555.9h0M117.0 555.3h0M116.4 555.3h0M118.0 556.0h0M118.4 555.8h0M119.5 555.3h0M119.3 556.0h0M119.8 555.9h0M120.2 555.2h0M120.3 556.0h0M120.9 555.8h0M121.1 555.8h0M121.5 555.2h0M123.8 555.8h0M124.0 555.6h0M124.2 555.0h0M124.2 555.7h0M126.0 555.1h0M125.7 555.3h0M125.4 555.4h0M125.5 555.2h0M126.1 555.6h0M128.5 555.5h0M129.3 555.6h0M129.2 555.7h0M129.0 555.3h0M81.1 556.8h0M82.7 556.9h0M84.3 556.1h0M85.8 556.4h0M86.1 556.4h0M87.4 556.6h0M87.8 556.6h0M88.0 556.8h0M89.0 556.3h0M89.4 556.3h0M89.3 556.2h0M89.6 556.3h0M89.0 556.3h0M91.7 556.3h0M92.0 556.3h0M92.2 556.8h0M93.6 556.7h0M95.0 556.1h0M95.6 556.3h0M95.3 556.5h0M96.2 556.8h0M96.3 556.0h0M97.3 556.7h0M102.2 556.3h0M102.7 556.9h0M104.7 556.2h0M105.5 556.0h0M105.6 556.2h0M105.9 556.3h0M105.0 556.3h0M106.1 556.4h0M107.0 556.7h0M109.7 556.1h0M109.6 556.7h0M110.2 556.3h0M110.7 556.5h0M111.3 556.6h0M111.5 556.7h0M111.7 556.4h0M112.3 556.6h0M112.2 556.8h0M114.3 556.2h0M115.9 556.7h0M115.6 556.8h0M115.4 556.6h0M116.2 556.6h0M118.4 556.3h0M121.1 556.5h0M121.5 556.1h0M122.5 556.5h0M122.4 556.5h0M122.9 556.0h0M122.6 556.8h0M123.0 556.3h0M123.6 556.6h0M124.9 556.4h0M125.8 556.8h0M127.4 556.7h0M127.1 556.2h0M127.7 556.7h0M127.3 556.1h0M127.7 556.2h0M128.6 556.9h0M80.5 558.0h0M82.5 557.2h0M82.6 557.7h0M84.8 557.9h0M84.6 557.4h0M86.0 557.5h0M87.8 557.4h0M87.5 557.8h0M88.6 557.8h0M89.7 557.1h0M89.6 557.8h0M91.3 557.4h0M93.4 557.3h0M94.0 557.5h0M94.6 557.5h0M94.5 557.3h0M94.1 557.4h0M94.1 557.7h0M95.8 557.6h0M95.2 557.1h0M96.2 557.3h0M96.4 557.9h0M96.0 557.8h0M97.6 557.7h0M97.5 557.3h0M97.2 557.7h0M102.8 558.0h0M102.2 557.9h0M103.6 557.1h0M103.1 557.3h0M103.8 557.9h0M104.2 557.2h0M104.6 557.2h0M104.7 557.6h0M105.6 557.9h0M105.2 557.9h0M105.7 557.2h0M105.7 557.4h0M106.0 557.7h0M106.3 557.0h0M108.0 557.6h0M107.6 557.3h0M108.0 557.2h0M108.7 557.5h0M108.4 557.4h0M108.7 557.7h0M109.5 557.3h0M109.9 557.4h0M110.5 557.4h0M111.9 557.3h0M112.0 557.2h0M112.0 557.1h0M111.4 557.9h0M112.4 557.5h0M113.0 557.4h0M115.0 557.4h0M114.7 557.3h0M114.8 557.0h0M115.5 557.8h0M116.6 557.2h0M116.7 557.1h0M116.8 557.8h0M117.6 558.0h0M117.1 557.2h0M117.0 557.9h0M119.0 557.3h0M118.7 557.2h0M119.9 557.3h0M120.5 557.7h0M120.5 557.3h0M121.6 557.1h0M121.0 557.2h0M122.2 557.0h0M122.4 557.9h0M122.1 557.6h0M123.5 557.6h0M123.6 557.5h0M124.6 557.7h0M124.8 557.2h0M125.0 557.2h0M125.6 557.1h0M125.3 557.1h0M126.3 557.6h0M126.0 557.9h0M127.2 557.0h0M127.9 557.4h0M129.2 558.0h0M133.7 557.7h0M83.2 558.5h0M84.6 558.8h0M85.1 558.0h0M85.4 558.8h0M86.4 558.4h0M86.3 558.8h0M87.9 558.2h0M88.1 558.5h0M88.2 558.3h0M88.1 558.9h0M89.5 558.1h0M89.0 558.1h0M90.6 558.7h0M90.1 558.3h0M91.3 558.7h0M91.4 558.6h0M92.7 558.2h0M92.4 558.7h0M92.6 558.1h0M93.5 558.5h0M93.7 558.3h0M94.6 558.7h0M94.2 558.2h0M95.2 558.3h0M95.3 559.0h0M96.4 558.4h0M97.0 558.0h0M96.4 558.4h0M97.6 558.5h0M103.0 558.0h0M105.7 558.3h0M105.3 558.6h0M105.2 558.6h0M106.2 558.9h0M107.0 558.9h0M107.6 558.3h0M107.8 558.1h0M108.8 558.1h0M108.3 558.7h0M108.6 558.2h0M109.3 558.5h0M109.9 558.3h0M110.4 558.7h0M110.9 558.1h0M111.4 558.2h0M111.7 558.3h0M113.4 558.3h0M114.4 558.3h0M114.8 558.6h0M114.1 558.3h0M116.6 558.6h0M117.3 558.5h0M117.1 558.1h0M117.6 558.9h0M118.6 558.0h0M118.1 558.4h0M120.0 558.2h0M120.1 558.8h0M120.3 558.3h0M120.4 558.3h0M121.2 558.4h0M121.7 558.4h0M121.5 558.2h0M122.9 558.6h0M122.8 558.0h0M123.9 558.6h0M123.1 558.3h0M124.0 558.4h0M124.5 558.4h0M124.3 558.6h0M124.7 558.6h0M125.7 558.7h0M126.6 559.0h0M127.6 558.0h0M128.8 558.4h0M130.0 558.3h0M131.0 558.7h0M133.2 558.0h0M84.3 559.1h0M85.9 559.7h0M86.3 559.4h0M86.4 559.8h0M87.9 560.0h0M87.3 559.2h0M88.4 559.1h0M88.2 559.7h0M89.7 559.9h0M90.0 559.1h0M90.6 559.7h0M91.5 559.4h0M91.8 559.7h0M91.8 559.8h0M91.9 559.4h0M92.1 559.1h0M92.1 559.8h0M93.7 559.9h0M93.8 559.9h0M93.7 559.6h0M93.6 559.5h0M93.0 559.9h0M93.3 559.1h0M93.2 559.8h0M93.4 559.3h0M94.6 559.0h0M94.4 559.6h0M95.8 559.4h0M96.1 559.9h0M96.5 559.4h0M102.1 559.9h0M103.5 559.6h0M103.7 559.3h0M103.3 559.7h0M103.5 559.1h0M104.3 559.3h0M105.2 559.7h0M105.3 559.7h0M105.2 559.2h0M106.0 559.5h0M106.6 559.1h0M107.2 559.5h0M108.9 559.3h0M109.4 559.2h0M109.1 559.2h0M111.0 559.8h0M110.6 559.4h0M110.9 559.3h0M111.1 559.8h0M113.9 559.4h0M113.8 559.2h0M114.3 559.4h0M115.4 559.8h0M116.0 559.8h0M116.6 559.4h0M117.2 559.3h0M117.1 559.9h0M117.5 559.3h0M117.2 559.2h0M118.2 559.2h0M119.7 559.4h0M120.0 559.8h0M119.4 559.0h0M120.5 559.1h0M121.6 559.1h0M121.1 559.6h0M122.0 560.0h0M123.0 559.4h0M123.1 559.2h0M123.9 559.3h0M123.1 559.8h0M124.2 559.1h0M124.9 559.2h0M124.2 559.3h0M125.5 559.7h0M125.7 559.7h0M125.4 559.8h0M125.4 559.6h0M126.5 559.2h0M126.0 559.3h0M127.6 559.9h0M127.2 559.1h0M129.0 559.8h0M128.7 559.3h0M129.0 559.7h0M129.0 559.0h0M128.9 559.6h0M128.1 559.5h0M131.2 559.7h0M131.7 559.9h0M132.7 559.5h0M81.9 560.8h0M84.4 560.7h0M84.1 560.7h0M85.4 560.5h0M86.3 560.4h0M88.3 560.5h0M88.5 560.2h0M88.7 560.1h0M88.2 560.6h0M88.7 560.5h0M89.5 560.5h0M89.2 560.4h0M89.1 560.5h0M90.7 560.5h0M90.1 560.7h0M91.1 560.5h0M91.7 560.9h0M91.2 560.6h0M92.1 560.5h0M92.7 560.8h0M92.7 560.0h0M94.9 561.0h0M94.7 560.2h0M94.9 560.6h0M96.0 560.6h0M95.4 560.3h0M96.9 560.4h0M97.3 560.9h0M98.0 560.8h0M102.3 560.7h0M102.9 560.2h0M103.0 560.6h0M102.1 560.5h0M103.9 560.9h0M104.8 560.6h0M104.7 560.2h0M104.0 560.0h0M105.8 560.6h0M106.8 560.1h0M106.5 560.9h0M106.2 560.9h0M107.2 560.8h0M107.8 560.6h0M108.0 560.5h0M108.7 560.6h0M108.3 560.6h0M109.3 560.9h0M110.3 560.9h0M110.8 560.5h0M111.9 560.1h0M111.9 560.6h0M112.4 560.9h0M112.9 560.3h0M113.2 561.0h0M114.0 560.6h0M114.8 560.5h0M114.9 560.9h0M115.7 560.5h0M115.0 560.8h0M115.8 560.7h0M116.2 560.7h0M116.1 560.3h0M116.2 560.1h0M117.1 560.2h0M117.3 560.1h0M119.0 560.2h0M118.6 560.8h0M118.6 560.2h0M119.0 560.6h0M120.0 560.9h0M120.7 560.1h0M120.1 560.5h0M121.0 560.7h0M120.5 560.1h0M121.4 560.7h0M121.6 560.4h0M121.7 560.6h0M123.6 560.9h0M125.4 560.9h0M126.3 560.4h0M127.7 560.3h0M127.9 560.9h0M128.1 560.2h0M129.1 560.1h0M129.0 560.3h0M130.9 560.2h0M130.6 560.1h0M75.1 562.0h0M77.7 561.8h0M81.6 561.3h0M82.2 561.7h0M83.8 561.3h0M85.1 561.3h0M87.5 561.7h0M87.7 561.8h0M88.9 561.5h0M88.1 561.7h0M88.6 561.1h0M89.3 561.2h0M89.9 561.2h0M90.4 561.2h0M92.8 561.2h0M94.3 561.1h0M95.3 561.6h0M96.4 561.3h0M97.3 562.0h0M102.2 561.7h0M102.8 561.2h0M103.4 561.1h0M103.6 561.1h0M103.1 561.9h0M103.1 561.9h0M103.4 561.3h0M103.3 562.0h0M104.5 561.9h0M104.9 561.4h0M105.9 561.3h0M106.8 561.8h0M109.0 561.7h0M108.1 561.5h0M110.0 561.1h0M109.6 561.7h0M109.3 561.6h0M109.8 561.0h0M111.9 561.6h0M112.7 561.1h0M113.9 561.6h0M114.0 561.8h0M113.7 561.4h0M113.1 561.1h0M114.6 561.3h0M114.4 561.1h0M114.7 561.8h0M114.7 561.4h0M114.8 562.0h0M115.9 561.9h0M116.0 561.7h0M116.5 561.6h0M116.6 561.1h0M116.3 561.7h0M117.5 561.4h0M117.1 561.9h0M117.5 561.7h0M118.7 561.9h0M118.3 561.2h0M119.2 561.7h0M119.1 561.7h0M120.3 561.4h0M120.5 561.0h0M121.0 561.2h0M121.5 561.6h0M122.2 561.8h0M122.3 561.3h0M122.8 561.4h0M123.0 561.5h0M124.6 561.4h0M125.4 561.3h0M125.1 561.6h0M125.9 561.8h0M125.3 562.0h0M125.5 561.1h0M126.6 561.9h0M126.4 561.8h0M127.1 561.3h0M128.9 561.1h0M128.1 561.5h0M129.7 561.5h0M130.4 561.8h0M131.4 561.8h0M131.3 561.2h0M79.7 562.9h0M84.8 562.2h0M86.7 562.7h0M87.9 562.6h0M87.1 562.3h0M88.5 562.2h0M88.1 562.6h0M89.1 562.2h0M89.0 562.5h0M90.0 562.4h0M91.3 562.3h0M92.8 562.9h0M93.4 562.4h0M93.2 562.0h0M93.3 562.2h0M93.7 562.5h0M93.2 562.2h0M94.9 562.3h0M94.5 562.5h0M94.1 562.8h0M96.5 562.8h0M96.4 562.1h0M96.4 562.9h0M96.1 562.8h0M97.8 562.2h0M97.4 562.7h0M102.1 562.8h0M103.9 562.0h0M103.9 562.5h0M103.6 562.0h0M103.3 562.6h0M103.2 563.0h0M104.6 562.1h0M105.6 562.1h0M105.7 562.2h0M105.0 562.9h0M106.9 562.1h0M106.7 562.7h0M106.1 562.2h0M106.7 562.5h0M107.8 562.8h0M109.1 562.9h0M109.1 562.0h0M110.0 562.5h0M110.4 562.6h0M112.3 562.1h0M113.1 562.5h0M113.0 562.6h0M114.7 562.4h0M115.1 562.9h0M117.1 562.1h0M117.0 562.3h0M117.2 562.5h0M117.9 562.9h0M119.0 562.7h0M119.2 562.3h0M119.4 562.1h0M120.2 562.8h0M121.2 562.0h0M121.1 562.6h0M122.1 562.1h0M122.4 562.9h0M122.7 562.0h0M122.4 563.0h0M122.6 562.2h0M122.9 562.3h0M123.1 562.7h0M124.4 562.3h0M124.4 562.4h0M124.5 562.4h0M124.0 562.1h0M125.7 562.7h0M125.9 562.9h0M125.9 562.6h0M126.8 562.8h0M126.9 562.1h0M127.2 562.1h0M128.2 562.9h0M128.8 562.5h0M128.9 562.3h0M128.5 562.3h0M129.3 562.8h0M129.9 562.6h0M130.4 562.7h0M130.7 562.6h0M132.1 562.0h0M81.2 563.8h0M83.3 563.0h0M84.0 563.1h0M83.2 563.1h0M83.8 563.1h0M84.5 563.2h0M86.0 563.9h0M85.3 563.1h0M85.4 563.0h0M85.5 563.9h0M85.6 563.8h0M86.2 563.8h0M86.4 563.6h0M87.9 563.8h0M88.7 563.9h0M88.8 564.0h0M89.5 563.5h0M89.6 563.7h0M92.3 563.1h0M92.2 563.5h0M92.9 563.3h0M93.0 563.4h0M93.1 563.9h0M94.9 563.2h0M94.4 563.7h0M96.9 563.2h0M96.3 563.5h0M97.1 563.4h0M97.3 563.9h0M97.4 563.5h0M97.0 563.9h0M97.4 563.2h0M97.5 563.9h0M102.9 563.0h0M102.1 563.9h0M104.1 563.6h0M104.7 563.5h0M104.8 563.4h0M106.9 563.3h0M107.6 563.2h0M108.4 563.8h0M108.4 563.8h0M108.8 563.1h0M108.7 563.5h0M108.9 563.7h0M109.8 563.3h0M112.9 563.0h0M113.8 563.8h0M113.5 564.0h0M113.4 563.2h0M114.2 563.9h0M115.2 563.7h0M116.0 563.8h0M115.8 563.6h0M115.2 563.7h0M115.2 564.0h0M116.6 563.1h0M116.6 563.0h0M117.6 563.3h0M117.3 564.0h0M117.2 563.1h0M119.4 563.8h0M119.9 563.6h0M120.1 563.8h0M120.5 563.9h0M120.5 563.5h0M121.3 563.4h0M122.4 563.7h0M122.1 563.9h0M123.5 564.0h0M124.0 563.7h0M124.8 563.2h0M124.4 563.3h0M124.8 563.4h0M124.8 563.4h0M125.6 563.1h0M126.3 563.8h0M127.5 563.3h0M127.6 563.6h0M127.9 563.5h0M127.7 563.1h0M127.6 563.7h0M128.6 563.8h0M129.1 563.3h0M130.0 563.9h0M129.3 563.1h0M129.3 563.1h0M129.0 563.9h0M130.3 563.4h0M131.7 563.6h0M132.6 563.7h0M132.2 563.1h0M133.1 563.3h0M135.0 563.7h0M83.0 564.6h0M83.6 564.5h0M84.6 564.5h0M84.0 564.2h0M85.5 564.2h0M86.5 564.3h0M86.8 564.7h0M87.2 564.2h0M88.9 564.8h0M88.3 564.1h0M89.0 564.1h0M88.3 564.1h0M89.1 564.7h0M89.9 564.4h0M89.6 564.2h0M90.1 564.5h0M90.6 564.5h0M93.2 564.9h0M93.7 564.5h0M94.3 564.9h0M94.6 564.8h0M94.5 564.1h0M95.5 564.9h0M95.9 564.4h0M95.2 564.3h0M97.3 564.9h0M97.9 564.4h0M97.8 564.7h0M103.3 564.7h0M103.2 564.1h0M103.4 564.9h0M104.7 564.0h0M105.2 564.4h0M105.0 564.9h0M106.9 564.4h0M106.1 564.0h0M107.4 564.8h0M107.7 564.5h0M108.6 564.1h0M108.5 564.8h0M108.7 564.4h0M108.1 564.0h0M109.9 564.7h0M109.7 564.8h0M109.7 564.4h0M110.2 564.3h0M110.9 564.5h0M111.8 564.3h0M111.6 564.5h0M112.8 564.6h0M112.6 564.9h0M113.6 564.2h0M113.4 564.3h0M113.6 564.5h0M113.0 564.5h0M114.3 565.0h0M114.9 564.3h0M115.9 564.3h0M115.1 565.0h0M115.1 564.1h0M116.8 564.5h0M117.2 564.8h0M117.4 564.8h0M118.1 564.5h0M119.7 564.8h0M120.6 564.6h0M120.5 564.4h0M121.8 565.0h0M121.7 564.7h0M123.4 564.7h0M125.7 564.9h0M125.8 564.6h0M126.3 564.8h0M126.1 564.0h0M127.7 564.3h0M128.3 564.8h0M128.9 564.5h0M128.5 564.3h0M129.8 564.5h0M132.7 564.5h0M133.7 564.2h0M79.6 565.7h0M82.6 565.1h0M82.8 565.7h0M83.3 565.2h0M83.5 565.5h0M84.0 565.4h0M84.6 565.1h0M85.8 565.1h0M85.9 565.5h0M85.7 565.8h0M86.9 565.9h0M87.6 565.0h0M87.6 565.4h0M89.5 565.6h0M89.5 565.9h0M89.7 565.6h0M90.5 565.4h0M91.1 565.4h0M91.1 565.5h0M92.8 565.5h0M94.2 565.4h0M94.0 565.0h0M96.5 565.7h0M97.5 566.0h0M97.5 565.8h0M102.7 566.0h0M102.6 565.2h0M103.5 565.5h0M103.3 566.0h0M103.1 565.3h0M103.9 565.8h0M105.7 565.9h0M105.5 565.0h0M105.3 565.1h0M106.9 565.2h0M106.0 565.6h0M107.0 565.2h0M108.9 565.6h0M108.8 565.8h0M109.3 565.9h0M109.4 565.7h0M110.9 565.9h0M111.9 565.6h0M112.0 565.9h0M114.9 565.2h0M114.6 565.6h0M115.6 565.3h0M116.5 565.4h0M116.6 565.2h0M118.2 565.6h0M118.2 565.2h0M118.2 565.7h0M118.6 565.1h0M118.0 565.6h0M119.9 565.5h0M120.2 565.2h0M121.0 565.3h0M121.4 565.4h0M121.1 565.0h0M121.0 565.8h0M122.3 565.2h0M122.2 565.6h0M123.5 565.2h0M124.2 565.1h0M125.7 565.6h0M126.0 565.4h0M126.9 565.3h0M126.9 565.6h0M127.8 565.4h0M127.4 565.5h0M127.2 565.9h0M128.9 565.0h0M128.4 565.3h0M131.0 565.2h0M131.1 566.0h0M131.1 565.7h0M132.6 565.4h0M134.0 565.6h0M81.1 566.7h0M82.2 566.3h0M82.7 566.3h0M83.4 566.9h0M83.5 566.4h0M84.7 566.8h0M84.1 566.3h0M85.9 566.2h0M85.5 566.9h0M85.6 566.1h0M86.4 566.5h0M86.5 566.5h0M87.4 566.4h0M87.7 566.5h0M88.8 566.1h0M89.7 566.6h0M90.1 566.6h0M91.0 566.6h0M90.3 566.2h0M92.6 566.5h0M92.3 566.8h0M93.1 566.1h0M94.0 566.1h0M94.3 566.7h0M94.8 566.8h0M95.7 566.7h0M95.4 566.2h0M95.3 566.5h0M96.2 566.8h0M96.9 566.3h0M102.9 566.9h0M103.8 566.1h0M103.6 566.7h0M104.5 566.2h0M104.3 566.6h0M105.8 566.2h0M105.4 566.1h0M105.2 566.3h0M106.5 566.4h0M108.0 566.7h0M108.6 566.8h0M108.0 566.1h0M109.9 566.5h0M109.8 566.8h0M110.5 566.8h0M111.3 566.5h0M112.2 566.1h0M112.5 566.2h0M112.5 566.0h0M112.1 566.5h0M112.4 566.8h0M113.0 566.1h0M113.8 566.9h0M114.0 566.3h0M114.7 566.5h0M115.7 566.6h0M115.3 566.7h0M116.8 566.2h0M116.2 566.4h0M117.6 566.4h0M117.7 566.5h0M118.9 566.4h0M119.0 566.9h0M119.3 566.4h0M119.6 566.1h0M119.9 566.6h0M122.1 566.7h0M122.8 566.5h0M124.4 566.7h0M124.6 566.4h0M125.4 566.4h0M125.4 566.1h0M126.8 566.3h0M126.2 566.8h0M127.1 566.2h0M127.5 566.8h0M129.0 566.9h0M129.5 566.3h0M130.9 566.1h0M130.5 567.0h0M130.3 566.5h0M131.5 566.2h0M131.2 566.3h0M131.4 566.2h0M132.0 566.5h0M132.8 567.0h0M132.4 566.1h0M132.1 566.7h0M135.8 566.7h0M141.9 566.9h0M78.0 568.0h0M78.3 567.4h0M80.6 567.9h0M81.0 567.9h0M80.1 567.6h0M81.4 567.9h0M83.3 567.8h0M83.3 567.7h0M85.0 567.2h0M85.6 567.0h0M85.5 567.3h0M86.8 567.1h0M87.8 567.2h0M87.9 567.0h0M88.5 567.5h0M88.2 567.3h0M88.0 567.1h0M89.4 567.2h0M89.5 567.1h0M89.3 567.7h0M89.9 567.1h0M89.4 567.7h0M90.9 567.4h0M90.4 567.1h0M91.6 567.0h0M91.2 567.8h0M91.0 567.4h0M91.3 567.8h0M92.0 567.4h0M92.4 567.1h0M92.4 567.9h0M92.8 567.5h0M93.0 567.5h0M93.1 567.5h0M94.0 567.2h0M94.2 567.5h0M95.9 567.9h0M95.5 567.9h0M96.0 567.3h0M96.3 567.4h0M101.3 567.2h0M103.1 567.7h0M103.4 567.4h0M103.1 567.2h0M104.5 567.7h0M105.9 567.0h0M105.2 567.5h0M106.8 567.1h0M108.8 567.6h0M109.8 567.7h0M109.5 567.1h0M109.4 568.0h0M110.2 567.9h0M111.5 567.8h0M112.5 567.5h0M113.4 567.5h0M113.5 567.4h0M113.9 567.1h0M113.3 567.3h0M114.0 567.4h0M114.1 567.0h0M114.4 567.1h0M115.9 567.8h0M116.4 567.3h0M116.4 567.2h0M117.6 567.3h0M117.1 567.4h0M118.3 567.6h0M119.9 568.0h0M119.2 568.0h0M120.6 567.9h0M121.2 567.8h0M121.4 567.4h0M121.5 567.6h0M122.9 567.3h0M123.9 567.3h0M123.3 567.9h0M123.5 567.6h0M123.4 567.8h0M124.5 567.8h0M125.8 567.4h0M126.2 567.4h0M126.8 568.0h0M126.2 567.7h0M126.0 567.3h0M127.1 567.9h0M127.2 567.8h0M128.8 567.5h0M129.0 567.7h0M131.4 567.7h0M132.0 567.4h0M133.5 567.3h0M133.5 567.8h0M133.5 567.7h0M134.2 567.7h0M134.0 567.8h0M135.4 568.0h0M143.1 567.2h0M79.4 568.4h0M80.6 568.8h0M81.4 568.0h0M81.0 568.8h0M81.2 568.2h0M82.3 568.8h0M83.1 568.2h0M83.9 568.5h0M84.4 568.0h0M85.0 568.7h0M85.6 569.0h0M86.4 568.3h0M87.5 568.1h0M87.1 568.6h0M87.4 568.8h0M88.4 568.3h0M88.3 568.6h0M89.8 568.8h0M89.1 568.2h0M89.8 568.5h0M91.2 568.2h0M91.5 568.9h0M92.1 568.4h0M92.1 568.2h0M93.9 568.0h0M93.9 569.0h0M93.7 568.0h0M93.7 568.3h0M94.4 568.6h0M95.4 568.2h0M95.8 568.2h0M96.4 568.5h0M97.8 568.9h0M102.1 568.1h0M102.9 568.4h0M102.1 568.4h0M103.5 568.7h0M103.9 568.2h0M104.0 568.0h0M105.4 568.2h0M106.3 568.3h0M107.6 568.4h0M108.7 568.9h0M108.4 568.9h0M109.3 568.9h0M110.0 568.3h0M110.1 568.6h0M110.3 568.5h0M111.9 568.2h0M111.5 568.5h0M111.6 568.0h0M111.5 568.1h0M111.5 568.9h0M111.6 568.5h0M113.0 568.7h0M113.8 568.5h0M113.4 568.7h0M113.3 568.6h0M114.8 568.9h0M114.3 568.8h0M114.8 568.6h0M115.7 568.9h0M115.7 568.0h0M115.0 568.5h0M116.2 568.8h0M116.7 568.3h0M117.0 568.3h0M117.2 568.7h0M118.0 568.6h0M120.7 568.2h0M120.9 568.0h0M121.4 568.3h0M121.6 568.2h0M121.0 568.6h0M121.7 569.0h0M122.3 568.5h0M122.6 568.3h0M123.1 568.1h0M123.6 568.5h0M123.2 568.3h0M123.4 568.8h0M123.2 568.9h0M124.3 568.8h0M124.6 568.3h0M125.0 568.1h0M125.6 568.3h0M125.8 568.2h0M125.9 568.9h0M126.2 568.6h0M127.5 568.6h0M127.3 568.1h0M128.9 568.3h0M130.0 568.3h0M130.8 568.5h0M131.3 568.6h0M132.0 568.9h0M132.9 568.7h0M133.8 568.5h0M134.1 568.3h0M135.0 568.0h0M136.2 568.7h0M137.0 568.5h0M140.9 568.1h0M145.3 568.7h0M78.7 569.6h0M79.0 569.6h0M80.2 569.5h0M80.8 569.9h0M81.6 569.0h0M81.6 569.8h0M81.2 569.8h0M81.8 570.0h0M81.8 569.8h0M81.6 569.6h0M82.9 569.4h0M83.4 569.1h0M83.1 570.0h0M83.2 569.9h0M84.9 569.2h0M85.8 569.9h0M85.4 569.7h0M86.9 569.8h0M86.8 569.5h0M86.0 569.6h0M86.7 569.8h0M88.3 569.1h0M90.0 569.3h0M89.7 569.0h0M89.7 569.0h0M90.9 569.7h0M90.2 569.8h0M91.3 569.5h0M91.4 569.5h0M92.4 569.0h0M94.2 569.5h0M95.4 569.9h0M96.2 569.3h0M96.5 569.9h0M97.8 569.7h0M101.4 569.4h0M103.5 569.6h0M104.0 569.8h0M105.5 569.3h0M105.1 569.9h0M105.8 569.5h0M107.3 569.8h0M108.9 569.2h0M108.7 569.4h0M108.6 569.5h0M112.0 569.6h0M111.9 569.9h0M112.6 570.0h0M113.3 569.1h0M113.7 569.6h0M114.7 569.4h0M114.1 569.8h0M116.3 569.1h0M116.7 569.2h0M116.9 570.0h0M117.0 569.1h0M117.1 569.7h0M118.5 569.7h0M118.3 569.2h0M118.7 569.7h0M118.5 569.4h0M119.6 569.0h0M120.9 569.8h0M121.6 569.7h0M121.4 569.8h0M121.2 569.0h0M122.6 569.5h0M122.3 569.6h0M123.2 569.4h0M123.7 569.0h0M124.1 569.5h0M128.9 569.1h0M129.3 570.0h0M129.2 569.3h0M130.6 569.4h0M131.6 569.4h0M131.2 569.4h0M132.6 569.1h0M133.1 569.9h0M133.7 569.9h0M134.5 569.8h0M134.2 569.7h0M137.6 569.8h0M138.2 569.8h0M72.4 570.7h0M77.8 570.3h0M79.4 570.8h0M79.2 570.7h0M79.6 570.9h0M80.8 570.2h0M81.0 570.7h0M81.4 570.4h0M81.4 570.7h0M81.0 570.9h0M82.2 570.0h0M82.6 570.2h0M82.5 571.0h0M83.0 570.2h0M83.5 570.8h0M83.2 570.4h0M83.5 570.4h0M83.5 570.2h0M84.7 570.9h0M84.6 570.2h0M84.4 571.0h0M85.0 570.6h0M84.4 570.4h0M85.2 570.1h0M86.9 570.8h0M86.0 571.0h0M86.7 570.7h0M88.8 570.8h0M88.5 570.1h0M88.9 570.9h0M91.5 570.0h0M92.3 570.0h0M92.7 570.4h0M93.8 570.7h0M93.7 570.8h0M93.6 570.5h0M93.8 570.5h0M94.6 570.3h0M95.3 570.5h0M95.7 570.9h0M95.9 570.8h0M96.7 570.1h0M96.3 570.2h0M97.0 570.7h0M102.0 570.7h0M101.4 570.5h0M101.6 570.9h0M101.7 571.0h0M103.0 570.9h0M103.8 570.6h0M104.3 570.8h0M105.9 570.2h0M106.8 570.5h0M106.5 570.8h0M106.3 570.8h0M107.7 570.2h0M108.3 570.3h0M109.2 570.7h0M110.1 570.1h0M111.0 570.9h0M111.4 570.5h0M111.6 570.6h0M112.5 570.1h0M112.0 570.7h0M113.3 570.5h0M113.6 570.5h0M113.7 570.5h0M114.8 570.6h0M114.0 570.8h0M115.8 570.1h0M116.2 570.4h0M116.3 570.5h0M116.6 570.0h0M117.1 570.0h0M117.4 570.5h0M117.3 570.4h0M117.0 570.1h0M118.7 570.3h0M120.8 570.6h0M120.1 570.4h0M120.3 570.9h0M121.0 570.9h0M122.4 570.2h0M122.2 571.0h0M122.3 570.2h0M123.8 570.9h0M123.6 571.0h0M123.2 570.7h0M123.4 570.9h0M124.8 570.4h0M125.5 570.8h0M125.6 570.7h0M126.1 570.9h0M127.3 570.8h0M128.6 570.8h0M129.9 570.1h0M130.0 570.9h0M130.8 570.7h0M130.2 570.0h0M131.6 570.4h0M131.2 570.6h0M132.7 570.1h0M133.4 570.9h0M133.7 570.7h0M134.9 571.0h0M135.5 571.0h0M136.6 570.2h0M138.8 570.1h0M76.3 571.5h0M77.6 571.7h0M79.6 571.6h0M79.2 571.5h0M79.4 571.8h0M83.4 571.5h0M84.4 571.3h0M84.0 571.5h0M85.6 571.8h0M85.5 571.7h0M85.5 571.5h0M85.5 571.1h0M86.2 571.0h0M88.3 571.1h0M90.7 571.1h0M90.7 571.3h0M90.3 571.6h0M91.7 571.9h0M91.3 571.9h0M92.8 571.2h0M92.6 571.0h0M93.0 571.4h0M93.4 571.2h0M94.7 571.1h0M94.6 571.2h0M95.8 571.5h0M96.9 571.6h0M96.5 571.1h0M96.7 571.5h0M96.2 571.3h0M97.8 571.3h0M97.1 571.9h0M101.3 571.4h0M101.9 571.7h0M101.9 571.2h0M102.2 571.8h0M102.7 571.7h0M103.1 571.6h0M103.3 571.1h0M104.0 571.0h0M103.7 571.9h0M105.6 571.6h0M106.0 571.8h0M106.8 571.6h0M106.9 571.4h0M108.1 571.3h0M109.0 571.9h0M110.0 571.2h0M111.3 571.5h0M111.7 571.8h0M111.5 571.2h0M112.7 571.0h0M114.0 571.4h0M114.4 571.3h0M115.2 571.2h0M115.4 571.6h0M115.4 571.9h0M115.6 571.4h0M116.9 571.6h0M116.3 571.0h0M117.8 571.0h0M118.8 571.0h0M118.5 571.0h0M118.2 571.1h0M119.2 571.3h0M120.0 571.4h0M120.5 571.2h0M120.0 571.3h0M120.3 571.1h0M120.7 571.7h0M120.4 571.6h0M122.3 571.6h0M122.4 571.9h0M122.5 571.3h0M122.7 571.4h0M123.6 572.0h0M123.4 571.5h0M123.3 571.6h0M124.0 571.2h0M124.1 571.2h0M124.4 572.0h0M125.9 571.3h0M126.6 571.9h0M126.4 571.8h0M126.8 571.1h0M127.0 571.5h0M128.8 571.1h0M129.4 571.2h0M130.6 571.1h0M132.0 571.7h0M131.6 571.5h0M131.5 571.2h0M132.6 571.9h0M132.0 571.7h0M133.2 571.7h0M133.4 571.6h0M135.4 571.2h0M136.5 571.7h0M136.2 571.4h0M136.5 571.2h0M74.3 572.1h0M77.4 572.1h0M77.5 572.8h0M78.3 572.6h0M79.3 572.6h0M81.7 572.9h0M82.7 572.8h0M82.6 572.2h0M83.2 572.6h0M85.0 572.4h0M85.5 572.8h0M86.8 572.6h0M86.5 572.7h0M86.1 572.3h0M87.4 572.1h0M88.7 572.0h0M89.0 572.2h0M88.9 572.1h0M89.1 573.0h0M89.3 572.8h0M90.2 572.8h0M90.6 572.4h0M90.8 572.4h0M91.2 572.6h0M91.3 572.6h0M91.9 572.2h0M92.9 572.8h0M92.8 572.7h0M92.4 572.4h0M92.5 572.5h0M93.9 572.7h0M93.8 572.2h0M93.5 572.1h0M94.4 572.8h0M94.0 572.6h0M94.6 572.5h0M94.5 572.4h0M95.7 572.0h0M96.2 572.3h0M96.3 572.8h0M96.2 572.6h0M97.6 572.7h0M98.2 572.5h0M102.7 572.1h0M103.2 572.3h0M104.5 572.9h0M104.3 572.7h0M104.7 572.4h0M104.7 572.7h0M104.2 572.6h0M105.9 572.9h0M105.2 572.3h0M106.0 573.0h0M107.2 572.3h0M107.8 572.4h0M107.5 572.1h0M107.7 572.1h0M108.1 572.9h0M109.7 572.2h0M109.9 572.8h0M109.3 572.8h0M110.0 572.1h0M110.9 572.5h0M111.0 572.9h0M111.0 572.9h0M111.3 572.4h0M111.9 572.7h0M111.9 572.5h0M112.9 572.8h0M112.9 572.9h0M114.4 572.5h0M114.2 572.8h0M114.5 572.4h0M115.9 572.9h0M115.7 573.0h0M116.1 572.5h0M117.0 572.9h0M118.5 572.0h0M118.6 572.5h0M119.4 572.4h0M121.5 572.3h0M122.3 572.2h0M122.6 572.6h0M122.5 572.8h0M123.0 572.4h0M123.5 572.5h0M124.8 572.4h0M124.8 573.0h0M125.8 572.4h0M125.5 572.8h0M125.3 572.8h0M126.7 572.4h0M127.6 572.1h0M128.0 572.2h0M128.4 573.0h0M129.3 573.0h0M129.1 572.0h0M131.0 572.9h0M132.8 572.0h0M132.2 572.9h0M132.2 572.5h0M132.3 572.3h0M133.1 572.8h0M134.0 572.1h0M134.0 572.2h0M135.8 572.9h0M136.2 572.3h0M140.0 572.8h0M69.2 573.8h0M74.2 573.7h0M76.5 573.1h0M76.6 573.5h0M77.9 573.7h0M78.6 573.9h0M79.0 573.8h0M79.2 573.4h0M81.8 573.9h0M81.6 573.9h0M81.5 573.6h0M81.8 573.6h0M81.1 573.2h0M82.8 573.8h0M83.8 573.5h0M83.9 573.5h0M84.2 573.9h0M84.8 573.7h0M84.1 574.0h0M84.4 573.4h0M85.1 573.9h0M86.9 573.4h0M87.8 573.2h0M88.0 573.8h0M88.6 573.2h0M88.2 573.7h0M90.2 573.1h0M90.3 573.4h0M90.5 573.1h0M90.1 573.4h0M91.9 573.5h0M91.9 574.0h0M91.9 573.6h0M92.7 573.3h0M92.9 573.1h0M92.9 573.6h0M93.9 573.9h0M96.0 573.8h0M95.8 573.9h0M96.4 573.1h0M96.6 573.8h0M96.1 573.3h0M97.4 573.3h0M100.1 573.2h0M101.3 573.9h0M102.1 573.4h0M102.0 573.6h0M102.3 573.7h0M102.2 573.3h0M103.1 573.7h0M104.1 573.7h0M104.8 573.3h0M105.1 573.2h0M105.8 573.3h0M106.0 573.3h0M107.4 573.8h0M108.5 573.7h0M108.9 573.0h0M108.9 573.7h0M108.9 573.4h0M108.2 573.7h0M109.5 573.9h0M109.2 573.9h0M109.4 573.9h0M110.0 573.6h0M110.2 573.6h0M110.0 573.0h0M110.9 573.1h0M110.6 573.5h0M112.8 573.5h0M112.7 573.5h0M115.0 573.4h0M114.4 573.8h0M114.1 573.3h0M114.9 573.5h0M115.1 573.6h0M116.0 573.2h0M115.9 573.6h0M116.9 573.9h0M117.7 573.9h0M117.1 573.4h0M121.0 573.1h0M120.7 573.7h0M120.2 573.7h0M121.3 573.9h0M122.7 573.6h0M122.5 573.9h0M122.1 573.5h0M123.9 573.5h0M123.2 573.1h0M123.1 573.3h0M123.3 573.9h0M124.6 573.6h0M124.3 573.4h0M124.0 573.6h0M125.0 573.8h0M125.3 574.0h0M127.0 573.9h0M126.2 573.8h0M127.6 573.3h0M127.4 573.9h0M129.8 573.9h0M129.7 573.2h0M129.8 573.1h0M129.2 573.2h0M129.8 573.0h0M129.1 573.3h0M130.7 573.5h0M130.5 573.1h0M130.5 573.6h0M131.8 573.4h0M133.9 573.1h0M134.7 573.6h0M134.6 574.0h0M135.6 574.0h0M135.5 573.9h0M135.4 573.3h0M136.1 573.0h0M136.0 573.1h0M136.8 573.2h0M137.6 573.0h0M139.9 573.8h0M140.4 573.9h0M140.4 573.4h0M140.8 573.9h0M140.1 573.5h0M143.2 573.1h0M152.0 573.5h0M70.8 575.0h0M75.2 574.0h0M76.5 574.1h0M76.2 574.1h0M77.0 574.5h0M77.6 574.5h0M78.7 574.9h0M78.8 574.1h0M79.0 574.6h0M79.3 575.0h0M79.9 574.3h0M80.4 574.2h0M80.0 574.9h0M80.4 574.7h0M80.5 574.9h0M81.8 574.7h0M82.3 574.5h0M83.5 574.4h0M83.1 574.6h0M84.9 574.7h0M84.9 574.3h0M84.1 574.8h0M85.1 574.4h0M85.4 574.3h0M87.3 574.7h0M88.0 574.2h0M88.0 574.5h0M89.4 574.3h0M89.9 574.3h0M91.4 574.3h0M91.5 574.0h0M91.3 574.1h0M92.7 574.9h0M92.4 574.3h0M92.7 574.9h0M93.1 574.9h0M94.3 574.3h0M96.0 574.3h0M95.4 574.3h0M95.7 574.7h0M96.2 574.9h0M96.1 574.1h0M97.9 574.7h0M98.8 574.4h0M98.3 574.9h0M98.5 574.7h0M98.8 574.3h0M98.9 574.4h0M98.5 574.7h0M98.6 574.5h0M100.7 574.9h0M102.7 574.4h0M104.5 574.8h0M105.8 574.8h0M105.2 574.7h0M105.7 574.8h0M106.7 574.5h0M106.9 574.8h0M106.9 574.7h0M106.9 574.6h0M107.3 574.4h0M107.2 574.4h0M107.3 574.5h0M109.0 574.9h0M110.8 574.7h0M111.0 574.1h0M110.6 574.4h0M112.0 574.7h0M111.8 575.0h0M111.3 574.9h0M111.6 574.4h0M111.0 574.1h0M112.3 574.2h0M114.0 574.6h0M114.4 574.2h0M116.1 574.9h0M117.5 574.6h0M119.3 574.6h0M119.9 574.7h0M119.1 574.4h0M120.8 574.3h0M120.3 574.8h0M121.2 574.5h0M122.0 574.5h0M121.8 574.7h0M122.3 574.3h0M122.2 574.5h0M122.2 574.8h0M123.9 574.2h0M123.1 574.9h0M123.7 574.7h0M124.5 574.3h0M124.2 574.3h0M125.2 574.8h0M125.3 574.4h0M126.6 574.0h0M126.1 574.2h0M126.5 574.5h0M126.3 574.2h0M126.5 574.2h0M127.6 574.3h0M127.2 574.1h0M127.1 574.4h0M127.4 574.0h0M128.3 574.2h0M129.7 575.0h0M129.9 574.9h0M129.6 574.1h0M131.1 574.9h0M131.9 574.9h0M132.7 574.8h0M132.8 574.2h0M132.6 574.5h0M132.9 574.6h0M133.4 574.5h0M133.6 574.1h0M133.8 574.6h0M134.2 574.0h0M134.9 574.5h0M136.4 574.9h0M136.3 574.3h0M136.5 574.4h0M137.7 574.3h0M139.4 574.6h0M140.5 574.6h0M140.5 574.9h0M141.6 574.1h0M70.1 576.0h0M71.8 575.5h0M73.8 575.1h0M74.3 575.1h0M74.5 575.3h0M75.0 575.3h0M74.4 575.4h0M75.7 575.5h0M76.6 575.3h0M77.9 575.7h0M77.7 575.4h0M77.3 575.8h0M78.4 575.7h0M79.5 575.4h0M79.1 575.7h0M79.7 575.9h0M79.1 575.0h0M80.7 575.4h0M81.5 575.0h0M81.2 575.7h0M81.0 575.4h0M82.6 575.9h0M82.6 575.5h0M84.5 575.0h0M84.3 575.2h0M85.6 575.7h0M86.2 575.3h0M88.5 575.4h0M90.7 575.5h0M90.5 575.4h0M92.0 575.7h0M91.2 575.1h0M92.8 575.5h0M92.9 575.2h0M92.5 575.6h0M93.9 575.9h0M93.6 576.0h0M94.5 575.9h0M95.0 575.5h0M95.2 575.8h0M96.7 575.1h0M98.4 575.3h0M98.2 575.9h0M99.0 575.6h0M98.4 575.3h0M98.3 575.7h0M100.3 575.1h0M102.0 575.8h0M101.9 575.8h0M101.8 575.0h0M101.1 575.7h0M103.0 576.0h0M103.3 575.8h0M103.8 575.8h0M104.6 575.2h0M105.7 575.8h0M105.2 575.8h0M106.8 575.3h0M108.9 575.2h0M109.7 575.1h0M110.1 575.2h0M110.5 575.4h0M110.1 575.9h0M111.1 575.5h0M111.9 575.9h0M111.5 575.3h0M112.7 575.2h0M113.6 575.1h0M115.0 575.1h0M114.1 575.9h0M117.2 575.9h0M117.3 575.2h0M117.2 575.1h0M117.8 575.2h0M119.8 575.5h0M119.3 575.6h0M121.7 575.2h0M121.2 575.9h0M122.1 575.1h0M123.8 575.9h0M123.5 575.0h0M123.4 575.7h0M124.2 575.9h0M125.4 575.7h0M125.6 575.4h0M127.2 575.8h0M127.2 575.2h0M128.0 575.0h0M130.0 576.0h0M130.7 575.3h0M130.8 575.4h0M132.3 575.2h0M132.3 576.0h0M132.4 575.7h0M133.0 575.8h0M133.6 575.4h0M133.2 575.9h0M135.1 575.6h0M135.0 576.0h0M135.4 575.0h0M136.9 575.4h0M137.7 575.2h0M137.6 575.5h0M138.1 575.5h0M139.5 575.4h0M139.4 575.1h0M140.8 575.0h0M141.3 575.1h0M66.8 576.3h0M68.6 576.3h0M70.6 576.0h0M71.3 576.4h0M71.3 576.8h0M71.7 576.8h0M71.2 576.4h0M72.6 576.2h0M72.2 576.4h0M72.9 577.0h0M73.4 576.3h0M74.2 576.6h0M75.6 576.7h0M75.7 576.0h0M76.3 576.2h0M76.8 576.1h0M77.1 576.2h0M77.4 576.5h0M77.9 576.6h0M79.0 576.0h0M78.6 576.9h0M80.9 576.5h0M81.1 576.9h0M81.3 576.0h0M82.6 576.3h0M82.4 576.6h0M83.7 576.7h0M83.6 576.2h0M86.0 576.1h0M86.4 576.8h0M86.7 576.3h0M86.5 576.2h0M88.0 576.4h0M87.9 576.9h0M87.7 576.7h0M88.4 576.3h0M88.9 576.2h0M89.3 576.4h0M89.6 576.7h0M89.9 576.4h0M94.0 576.8h0M93.9 576.6h0M94.8 576.8h0M95.9 576.1h0M96.5 576.1h0M96.3 576.6h0M96.4 576.4h0M96.4 576.8h0M98.0 576.1h0M98.0 576.2h0M98.9 576.2h0M102.0 576.9h0M101.4 576.8h0M102.3 576.1h0M104.2 576.5h0M106.8 576.2h0M109.3 576.2h0M112.5 576.3h0M113.8 576.9h0M113.0 576.6h0M115.1 576.1h0M115.8 576.6h0M115.4 576.5h0M116.7 576.9h0M116.3 576.1h0M116.3 576.8h0M116.1 576.1h0M117.7 576.5h0M117.2 576.5h0M117.1 576.9h0M117.7 576.5h0M117.6 576.1h0M118.1 576.5h0M119.8 576.5h0M121.2 576.7h0M122.5 576.3h0M122.2 576.6h0M122.3 576.8h0M123.1 576.2h0M123.1 576.4h0M124.4 576.1h0M125.1 576.2h0M125.9 576.4h0M125.9 576.8h0M127.4 576.7h0M127.6 576.0h0M129.3 576.7h0M129.4 576.5h0M130.1 576.8h0M130.9 576.4h0M130.9 576.4h0M130.1 576.1h0M131.0 577.0h0M131.6 576.9h0M131.5 576.5h0M132.9 576.4h0M132.6 576.2h0M132.8 576.3h0M134.2 576.1h0M135.0 576.4h0M136.4 576.7h0M136.5 576.5h0M137.2 576.5h0M138.9 576.0h0M139.2 576.3h0M141.4 577.0h0M141.5 576.1h0M141.4 576.3h0M142.4 576.1h0M142.4 576.4h0M153.9 576.4h0M55.6 577.1h0M60.2 577.7h0M64.7 577.2h0M64.7 577.7h0M66.3 577.2h0M69.8 577.1h0M69.2 577.5h0M69.7 577.5h0M70.1 577.8h0M70.5 577.5h0M70.1 577.1h0M71.1 577.0h0M71.3 577.3h0M72.9 577.5h0M73.6 577.1h0M74.9 577.0h0M76.4 577.8h0M76.8 577.7h0M78.1 577.9h0M78.8 577.4h0M78.3 577.7h0M78.5 577.4h0M79.4 577.7h0M79.9 577.2h0M82.8 577.6h0M82.7 577.4h0M83.0 577.6h0M84.0 577.6h0M83.9 577.1h0M85.7 577.4h0M85.0 577.4h0M85.7 577.2h0M86.0 577.1h0M86.7 577.0h0M86.8 577.4h0M86.9 577.3h0M87.1 577.3h0M88.4 577.1h0M88.6 577.8h0M88.1 577.8h0M88.2 578.0h0M88.3 577.2h0M88.8 577.1h0M91.0 577.5h0M90.5 577.6h0M91.4 577.1h0M92.4 577.2h0M92.4 577.3h0M93.1 577.6h0M93.1 577.2h0M93.1 577.6h0M93.7 577.9h0M94.1 577.8h0M94.8 577.1h0M95.1 577.4h0M96.2 577.5h0M97.7 577.5h0M97.2 577.9h0M97.0 577.3h0M97.5 577.6h0M98.3 578.0h0M98.0 577.2h0M98.2 577.8h0M101.0 577.1h0M100.8 577.2h0M101.8 577.6h0M101.9 577.7h0M101.4 577.1h0M102.1 577.3h0M102.0 577.5h0M104.4 577.2h0M104.4 577.7h0M106.3 577.8h0M106.7 577.0h0M106.0 577.5h0M107.1 577.8h0M109.0 578.0h0M108.0 577.3h0M109.2 577.7h0M109.2 577.7h0M111.4 577.2h0M111.1 578.0h0M113.6 577.2h0M114.3 577.6h0M114.7 577.1h0M114.8 577.3h0M114.6 577.9h0M114.2 577.5h0M115.3 577.2h0M116.0 577.2h0M115.3 577.5h0M116.6 577.6h0M116.1 577.9h0M116.0 577.0h0M118.9 577.5h0M119.1 577.8h0M120.2 577.1h0M121.4 577.3h0M121.1 577.9h0M122.9 577.9h0M122.5 577.1h0M123.0 577.3h0M125.1 577.6h0M126.9 577.5h0M127.4 577.3h0M127.4 577.6h0M127.5 577.0h0M128.6 577.2h0M129.0 577.2h0M129.2 577.9h0M129.8 577.7h0M130.6 577.9h0M131.9 577.7h0M131.1 577.7h0M131.5 577.7h0M132.6 577.8h0M133.1 577.6h0M133.5 577.9h0M134.4 577.2h0M134.5 577.7h0M135.0 577.1h0M134.5 577.0h0M136.0 577.0h0M138.1 577.5h0M138.7 577.7h0M139.9 577.9h0M139.2 577.5h0M140.6 577.0h0M141.4 577.3h0M144.7 577.5h0M150.2 577.3h0M57.5 578.4h0M61.3 579.0h0M62.2 579.0h0M62.4 578.4h0M63.3 578.8h0M64.7 578.6h0M64.3 578.7h0M64.3 578.6h0M65.5 578.7h0M65.7 578.4h0M66.9 578.9h0M67.6 578.8h0M67.8 578.3h0M67.9 578.8h0M68.2 578.3h0M70.6 578.7h0M71.3 578.3h0M71.6 578.5h0M72.7 578.4h0M73.6 578.5h0M73.3 578.6h0M74.8 578.1h0M74.9 578.8h0M74.4 578.7h0M74.2 578.7h0M75.2 578.2h0M75.8 578.3h0M76.7 578.1h0M77.1 578.5h0M77.3 578.1h0M78.4 578.3h0M79.1 578.2h0M79.3 578.6h0M80.7 578.8h0M81.4 578.9h0M81.5 578.5h0M81.7 578.4h0M82.5 578.1h0M83.8 578.9h0M83.7 578.7h0M83.1 578.1h0M83.9 578.4h0M84.1 578.2h0M85.3 578.6h0M85.1 578.0h0M87.6 578.1h0M88.7 578.7h0M88.8 578.5h0M88.1 578.5h0M88.9 578.7h0M89.8 578.5h0M89.7 578.7h0M90.4 578.6h0M91.3 578.1h0M91.7 578.5h0M91.2 578.5h0M92.8 578.2h0M93.7 578.7h0M93.7 578.2h0M93.8 578.5h0M93.5 578.7h0M94.4 578.9h0M95.6 578.2h0M97.0 578.6h0M97.3 578.9h0M97.9 578.6h0M98.5 578.8h0M99.9 578.1h0M100.8 578.7h0M100.6 578.3h0M101.6 578.1h0M102.8 578.3h0M102.9 578.9h0M102.3 578.7h0M103.8 578.3h0M103.2 578.7h0M104.4 578.1h0M104.6 579.0h0M105.7 579.0h0M105.6 578.7h0M105.3 578.4h0M106.5 578.8h0M106.7 578.3h0M106.5 578.7h0M108.2 578.4h0M108.8 578.1h0M108.9 578.5h0M109.3 578.4h0M109.6 578.4h0M110.8 578.5h0M110.9 579.0h0M111.8 578.9h0M111.9 578.9h0M111.4 578.4h0M112.5 578.7h0M113.4 578.1h0M114.4 578.2h0M115.1 578.2h0M115.3 578.6h0M116.0 578.2h0M115.7 578.5h0M115.4 578.5h0M116.9 578.2h0M116.2 578.4h0M116.5 578.4h0M117.8 578.6h0M117.8 578.2h0M117.1 578.5h0M117.0 578.1h0M117.6 578.6h0M118.1 578.1h0M119.9 578.6h0M119.2 578.1h0M121.9 578.7h0M121.7 578.8h0M121.3 578.0h0M122.9 578.2h0M122.1 578.5h0M122.7 578.4h0M124.0 578.6h0M123.6 579.0h0M123.6 578.4h0M124.2 578.4h0M124.7 578.8h0M125.0 578.2h0M126.1 578.5h0M126.3 578.4h0M126.3 578.7h0M128.0 578.1h0M129.9 578.9h0M129.8 578.3h0M130.5 578.2h0M131.1 578.4h0M132.7 578.0h0M132.9 579.0h0M133.8 578.9h0M133.8 578.7h0M134.8 578.3h0M134.9 578.9h0M135.1 578.1h0M136.7 578.6h0M136.1 578.8h0M136.9 578.5h0M137.5 578.4h0M137.8 578.8h0M138.1 578.6h0M138.7 578.9h0M138.1 578.2h0M139.7 578.9h0M139.7 578.6h0M139.0 578.0h0M141.5 578.3h0M141.3 578.4h0M142.7 578.5h0M142.3 578.9h0M142.0 578.9h0M145.4 578.7h0M146.3 578.7h0M148.9 578.9h0M60.2 579.5h0M63.8 579.3h0M63.7 579.0h0M64.3 579.6h0M64.2 579.7h0M65.5 579.6h0M67.1 579.8h0M68.4 579.9h0M68.6 579.9h0M68.9 579.2h0M69.2 579.1h0M69.2 579.2h0M71.5 580.0h0M71.0 579.9h0M71.9 579.6h0M71.5 579.7h0M72.9 579.7h0M73.1 579.2h0M73.7 579.8h0M73.7 579.9h0M74.9 579.1h0M75.4 579.4h0M75.4 579.9h0M76.2 579.1h0M76.2 579.6h0M76.0 579.4h0M76.7 579.1h0M78.3 580.0h0M80.0 579.9h0M79.1 579.3h0M81.5 579.4h0M82.5 579.4h0M83.7 579.4h0M83.7 579.4h0M84.7 579.9h0M84.8 579.5h0M88.8 579.7h0M88.0 579.5h0M89.4 579.2h0M91.3 579.3h0M91.6 579.9h0M91.3 579.8h0M91.7 579.1h0M91.5 579.7h0M92.9 579.2h0M93.1 579.1h0M94.6 579.8h0M94.2 579.0h0M96.0 579.4h0M95.2 579.1h0M95.2 580.0h0M95.6 579.3h0M96.0 579.1h0M96.0 579.0h0M96.6 579.3h0M96.7 579.1h0M96.8 579.6h0M97.0 579.2h0M96.3 579.0h0M96.5 579.0h0M97.4 579.6h0M97.0 579.6h0M97.9 579.8h0M98.6 579.7h0M98.4 579.3h0M100.5 579.8h0M101.3 579.8h0M101.5 579.8h0M101.3 579.2h0M101.3 579.1h0M101.7 579.2h0M101.5 579.3h0M101.6 579.7h0M104.5 580.0h0M104.6 579.8h0M104.5 579.4h0M105.3 579.7h0M107.4 579.9h0M107.3 579.7h0M107.5 579.1h0M108.6 579.7h0M108.5 579.5h0M109.4 579.5h0M110.7 579.3h0M110.7 579.7h0M112.1 579.6h0M112.2 579.7h0M113.6 579.1h0M114.5 579.3h0M114.1 579.1h0M115.7 579.4h0M115.9 579.9h0M116.0 579.3h0M116.1 579.7h0M116.6 579.2h0M117.6 579.7h0M119.7 579.0h0M119.9 579.3h0M120.4 579.3h0M121.0 579.7h0M122.6 579.3h0M122.2 580.0h0M124.9 579.3h0M124.4 579.1h0M126.0 579.8h0M126.1 579.0h0M126.5 579.1h0M126.8 579.9h0M128.6 579.8h0M128.2 579.4h0M129.2 579.1h0M129.7 579.2h0M130.8 579.8h0M130.0 579.0h0M130.1 579.6h0M131.6 579.3h0M131.5 579.7h0M132.6 579.1h0M132.8 579.5h0M132.6 579.2h0M133.1 579.4h0M133.3 579.4h0M133.9 579.1h0M134.1 579.4h0M134.5 579.7h0M136.7 579.3h0M136.2 579.3h0M136.1 579.1h0M136.4 579.2h0M137.9 579.9h0M138.4 579.4h0M138.5 579.7h0M139.7 579.5h0M139.0 579.5h0M139.7 579.4h0M140.1 579.5h0M142.1 579.4h0M142.1 579.4h0M142.1 579.3h0M144.7 579.8h0M144.9 579.1h0M145.7 579.9h0M146.0 579.2h0M146.3 579.2h0M146.6 579.9h0M147.0 579.5h0M56.0 580.2h0M57.9 580.6h0M60.5 580.2h0M61.3 580.6h0M63.4 580.6h0M63.2 580.6h0M63.3 580.6h0M63.8 580.4h0M64.3 580.6h0M64.8 580.3h0M64.5 580.0h0M66.7 580.6h0M66.1 580.0h0M66.6 580.5h0M67.4 580.6h0M67.8 580.4h0M67.3 580.6h0M67.8 580.6h0M68.8 580.0h0M68.0 580.1h0M68.1 580.6h0M69.5 580.3h0M69.1 580.3h0M70.4 580.0h0M70.3 580.1h0M71.5 580.1h0M71.5 580.5h0M72.3 580.3h0M72.3 580.6h0M72.5 580.5h0M74.8 580.6h0M74.3 580.6h0M74.6 580.6h0M75.3 580.2h0M76.3 580.6h0M79.0 580.6h0M78.7 580.6h0M78.9 580.4h0M79.4 580.5h0M79.4 580.6h0M81.7 580.3h0M81.8 580.6h0M81.7 580.6h0M82.0 580.6h0M83.8 580.6h0M83.1 580.6h0M84.9 580.6h0M86.5 580.6h0M86.4 580.3h0M87.5 580.6h0M87.7 580.4h0M87.8 580.5h0M88.9 580.6h0M88.6 580.2h0M90.0 580.6h0M89.6 580.3h0M90.2 580.4h0M90.8 580.6h0M91.3 580.5h0M91.6 580.4h0M92.0 580.6h0M91.6 580.6h0M93.2 580.1h0M93.5 580.6h0M96.2 580.6h0M97.5 580.2h0M98.4 580.3h0M98.1 580.1h0M100.3 580.5h0M101.2 580.6h0M101.7 580.6h0M101.9 580.2h0M103.7 580.2h0M104.7 580.1h0M104.6 580.1h0M104.9 580.6h0M105.1 580.0h0M105.9 580.6h0M106.0 580.6h0M107.3 580.2h0M108.4 580.1h0M109.6 580.6h0M109.5 580.6h0M110.3 580.6h0M112.3 580.6h0M112.5 580.3h0M112.6 580.2h0M113.8 580.4h0M113.1 580.2h0M114.8 580.6h0M114.9 580.5h0M114.6 580.6h0M115.2 580.6h0M115.8 580.4h0M116.0 580.2h0M115.8 580.4h0M115.9 580.3h0M115.6 580.6h0M115.4 580.0h0M117.3 580.2h0M118.2 580.6h0M119.0 580.6h0M119.6 580.6h0M119.1 580.4h0M119.2 580.6h0M120.0 580.2h0M120.5 580.6h0M121.6 580.2h0M121.7 580.5h0M121.4 580.6h0M121.5 580.6h0M123.8 580.3h0M123.0 580.6h0M123.7 580.6h0M123.9 580.4h0M124.5 580.1h0M125.8 580.6h0M126.5 580.3h0M127.9 580.0h0M127.9 580.6h0M127.8 580.2h0M128.7 580.2h0M129.5 580.0h0M129.4 580.6h0M129.1 580.6h0M130.7 580.6h0M131.0 580.6h0M131.9 580.5h0M132.3 580.1h0M132.4 580.3h0M133.7 580.6h0M133.0 580.3h0M134.1 580.5h0M135.3 580.1h0M136.6 580.4h0M136.7 580.6h0M136.9 580.6h0M137.6 580.3h0M138.8 580.4h0M138.2 580.5h0M138.8 580.0h0M140.2 580.3h0M140.8 580.2h0M141.6 580.6h0M141.4 580.2h0M141.3 580.0h0M142.9 580.6h0M143.9 580.2h0M145.9 580.6h0M145.1 580.6h0M145.9 580.6h0M148.1 580.3h0" stroke="#c4c4c4" stroke-width="2.2" stroke-linecap="round" fill="none"/>
<path d="M116.6 512.8h0M127.1 478.2h0M114.8 506.6h0M126.5 484.0h0M121.5 482.5h0M125.5 501.4h0M117.4 512.5h0M119.5 479.4h0M119.5 486.7h0M113.1 513.4h0M121.1 508.4h0M116.4 496.0h0M109.5 477.2h0M112.0 483.4h0M118.0 510.4h0M115.9 492.0h0M122.9 509.5h0M114.2 486.9h0M116.5 509.2h0M117.6 481.0h0M114.0 501.3h0M113.6 510.8h0M117.0 479.3h0M113.6 505.7h0M113.2 507.4h0M127.3 509.6h0M113.2 478.1h0M113.8 483.4h0M120.5 512.8h0M114.0 476.3h0M114.9 514.5h0M121.4 490.3h0M108.3 503.9h0M112.0 509.6h0M120.6 496.1h0M116.7 494.6h0M119.6 513.8h0M115.6 480.0h0M110.8 487.9h0M121.8 486.8h0M119.1 477.4h0M121.3 507.6h0M118.2 509.0h0M122.4 498.5h0M116.5 481.3h0M111.7 510.4h0M113.0 482.8h0M119.8 512.6h0M124.0 479.1h0M124.7 491.4h0M119.9 497.0h0M114.0 479.4h0M123.9 514.2h0M118.0 499.2h0M117.3 485.3h0M112.8 508.1h0M116.7 488.6h0M118.5 505.2h0M121.4 479.2h0M114.4 488.0h0M119.5 493.8h0M110.1 493.9h0M107.9 512.2h0M114.4 510.0h0M113.4 497.0h0M123.7 483.8h0M108.7 485.7h0M116.7 484.7h0M115.8 478.8h0M124.2 477.2h0M115.8 505.0h0M123.5 504.1h0M120.8 508.2h0M110.7 503.7h0M113.9 504.9h0M136.0 474.4h0M127.3 429.0h0M113.9 463.1h0M122.7 462.7h0M114.7 450.6h0M129.6 470.5h0M116.5 473.9h0M129.5 429.5h0M121.3 454.6h0M119.5 444.6h0M110.8 459.2h0M132.4 429.8h0M114.9 459.1h0M125.4 455.4h0M121.3 429.7h0M118.8 434.8h0M116.3 426.4h0M147.1 443.8h0M123.0 465.3h0M124.4 452.4h0M123.5 460.7h0M115.0 445.3h0M145.4 452.0h0M130.4 454.1h0M132.1 437.1h0M120.9 456.4h0M127.8 440.8h0M125.8 461.2h0M125.2 432.6h0M122.7 431.7h0M121.8 469.5h0M116.8 442.6h0M128.0 463.3h0M118.5 447.2h0M128.4 467.7h0M118.6 459.4h0M124.3 455.9h0M136.5 439.1h0M118.5 466.2h0M115.1 468.0h0M92.6 516.1h0M89.4 511.6h0M91.4 505.9h0M90.0 514.6h0M89.1 517.8h0M93.2 505.6h0M86.0 513.7h0M86.6 518.7h0M88.0 519.6h0M87.4 509.7h0M91.0 513.9h0M86.9 512.0h0M90.7 507.9h0M87.0 516.5h0M89.3 505.2h0M91.7 509.1h0M90.4 518.7h0M88.0 522.0h0M93.5 504.8h0M85.3 512.1h0M87.6 518.3h0M90.8 514.4h0M73.6 575.8h0M79.2 569.6h0M71.6 578.0h0M67.0 540.2h0M62.2 523.3h0M61.8 574.9h0M60.0 521.2h0M71.2 546.3h0M72.9 576.0h0M74.2 572.4h0M64.6 563.7h0M81.4 574.6h0M81.4 573.8h0M69.9 573.0h0M74.8 572.3h0M63.7 556.2h0M79.8 573.6h0M61.6 525.3h0M60.5 570.3h0M70.1 571.4h0M42.1 532.9h0M78.1 571.2h0M43.7 493.1h0M78.6 572.6h0M83.3 578.6h0M72.8 566.1h0M68.1 575.3h0M80.9 580.0h0M66.5 566.7h0M74.8 580.4h0M72.4 548.7h0M62.9 547.0h0M74.2 561.8h0M74.3 564.8h0M57.2 545.6h0M62.5 540.6h0M80.6 573.6h0M70.1 540.4h0M80.5 580.4h0M76.0 563.4h0M78.4 572.2h0M77.8 579.3h0M78.2 576.2h0M81.1 580.2h0M55.6 528.9h0M75.2 555.7h0M83.8 580.5h0M72.0 557.5h0M69.5 573.0h0M79.9 571.0h0M46.9 502.2h0M79.2 571.2h0M68.6 561.6h0M43.2 520.2h0M77.6 569.9h0M75.3 555.1h0M72.0 573.7h0M62.1 543.8h0M59.4 520.9h0M31.0 462.6h0M78.0 560.0h0M83.2 580.0h0M56.0 577.0h0M61.2 566.1h0M76.6 553.3h0M81.2 579.3h0M46.4 515.2h0M79.0 565.0h0M33.3 458.8h0M64.7 531.3h0M73.9 575.3h0M62.1 555.4h0M81.6 563.8h0M78.4 568.8h0M81.9 578.9h0M149.3 575.5h0M177.1 575.0h0M121.4 562.4h0M149.5 538.7h0M138.3 552.8h0M119.8 568.3h0M122.5 572.4h0M124.1 559.7h0M123.6 571.9h0M156.4 529.1h0M133.3 579.1h0M158.8 502.2h0M118.2 576.7h0M141.4 529.4h0M176.7 491.4h0M128.6 558.4h0M172.8 516.7h0M156.3 525.5h0M123.6 570.7h0M124.3 570.3h0M130.2 561.3h0M138.7 532.8h0M132.2 550.1h0M135.1 543.4h0M126.3 576.2h0M183.6 568.6h0M118.9 571.2h0M122.4 577.1h0M147.3 545.3h0M119.4 578.8h0M129.5 571.9h0M120.2 578.2h0M130.7 564.5h0M157.2 579.3h0M126.4 578.3h0M118.5 569.8h0M155.2 524.8h0M139.7 547.7h0M184.1 549.8h0M120.5 564.6h0M119.5 565.9h0M133.4 569.7h0M121.4 571.3h0M140.5 577.6h0M123.2 578.5h0M132.0 557.8h0M126.0 574.4h0M149.1 578.1h0M121.9 580.4h0M128.5 575.2h0M140.6 561.7h0M165.0 578.8h0M123.0 578.0h0M139.2 573.2h0M162.3 570.0h0M127.0 579.2h0M166.8 580.4h0M124.2 574.8h0M169.7 541.5h0M119.1 580.4h0M118.8 568.2h0M120.6 571.5h0M154.4 571.4h0M118.3 578.7h0M136.1 577.7h0M129.6 549.4h0M120.6 578.7h0M125.5 556.5h0M119.5 576.9h0M121.9 573.4h0M181.3 522.7h0M119.1 568.3h0M124.8 562.6h0M164.2 561.3h0M128.3 561.8h0M125.6 577.0h0M119.2 576.6h0M168.7 543.2h0M148.6 525.0h0M122.9 579.3h0M141.6 541.8h0M179.5 535.6h0M140.4 577.6h0M139.6 565.9h0M126.7 580.5h0M121.3 573.2h0M142.4 576.7h0M136.7 572.0h0M147.8 577.7h0M120.7 580.2h0M119.1 576.2h0M156.5 519.1h0M128.9 569.7h0M144.3 550.9h0M159.6 492.4h0M125.7 566.4h0M131.0 546.0h0M118.1 568.5h0M141.5 578.4h0M128.4 563.2h0M122.8 580.0h0M137.7 575.9h0M153.7 579.5h0M118.6 577.6h0M134.4 547.5h0M130.0 549.6h0M120.1 578.6h0M136.1 578.4h0M151.8 559.4h0M121.9 579.2h0M128.5 557.4h0M120.4 570.1h0M127.9 552.0h0M123.6 573.0h0M149.0 543.9h0M133.1 563.5h0M118.2 579.4h0M122.7 579.4h0M147.6 534.3h0M142.4 526.0h0M152.3 538.0h0M165.7 544.3h0M122.8 579.5h0M118.9 571.0h0M126.3 566.8h0M123.3 580.4h0M173.6 580.0h0M119.1 577.2h0M120.6 576.3h0M129.4 579.5h0M134.7 575.3h0M126.1 577.2h0M120.2 565.0h0M141.3 548.1h0M132.3 547.7h0M125.6 574.0h0M119.5 578.5h0M120.2 570.5h0M173.1 483.3h0M126.0 580.4h0" stroke="#c9c9c9" stroke-width="2.2" stroke-linecap="round" fill="none"/>
<circle cx="142.60" cy="311.70" r="1.25" fill="#ff1a1a"/>
<circle cx="129.50" cy="313.30" r="1.25" fill="#ff1a1a"/>
<circle cx="143.80" cy="368.50" r="1.25" fill="#ff1a1a"/>
<circle cx="129.50" cy="371.00" r="1.25" fill="#ff1a1a"/>
<circle cx="131.30" cy="372.80" r="1.25" fill="#ff1a1a"/>
<circle cx="137.10" cy="373.70" r="1.25" fill="#ff1a1a"/>
<circle cx="121.30" cy="407.40" r="1.25" fill="#ff1a1a"/>
<circle cx="139.20" cy="406.50" r="1.25" fill="#ff1a1a"/>
<circle cx="130.90" cy="413.50" r="1.25" fill="#ff1a1a"/>
<circle cx="179.60" cy="424.10" r="1.25" fill="#ff1a1a"/>
<circle cx="130.50" cy="449.50" r="1.25" fill="#ff1a1a"/>
<circle cx="127.00" cy="487.00" r="1.25" fill="#ff1a1a"/>
<circle cx="134.70" cy="507.10" r="1.25" fill="#ff1a1a"/>
<circle cx="107.20" cy="524.30" r="1.25" fill="#ff1a1a"/>
<circle cx="118.20" cy="521.20" r="1.25" fill="#ff1a1a"/>
<circle cx="90.00" cy="426.20" r="1.25" fill="#2f2fff"/>
<circle cx="91.10" cy="459.90" r="1.25" fill="#2f2fff"/>
<circle cx="85.50" cy="460.90" r="1.25" fill="#2f2fff"/>
<text x="140.90" y="307.60" font-size="8.20" fill="#ff1a1a">IFIT1</text>
<text x="121.00" y="320.50" font-size="8.20" fill="#ff1a1a">CD4</text>
<text x="119.90" y="367.50" font-size="8.20" fill="#ff1a1a">IFI44</text>
<text x="139.70" y="364.80" font-size="8.20" fill="#ff1a1a">SCN1B</text>
<text x="121.00" y="380.10" font-size="8.20" fill="#ff1a1a">CST7</text>
<text x="139.10" y="380.60" font-size="8.20" fill="#ff1a1a">OAS3</text>
<text x="109.30" y="403.50" font-size="8.20" fill="#ff1a1a">ANXA1</text>
<text x="138.80" y="402.60" font-size="8.20" fill="#ff1a1a">CFP</text>
<text x="129.50" y="420.40" font-size="8.20" fill="#ff1a1a">IFIT5</text>
<text x="168.30" y="431.70" font-size="8.20" fill="#ff1a1a">IFI44L</text>
<text x="133.60" y="453.50" font-size="8.20" fill="#ff1a1a">CSF3R</text>
<text x="128.20" y="492.40" font-size="8.20" fill="#ff1a1a">ITGAX</text>
<text x="132.90" y="503.30" font-size="8.20" fill="#ff1a1a">SELL</text>
<text x="94.90" y="521.20" font-size="8.20" fill="#ff1a1a">CD33</text>
<text x="121.50" y="526.10" font-size="8.20" fill="#ff1a1a">ITGAM</text>
<text x="79.80" y="433.70" font-size="8.20" fill="#2f2fff">FHL2</text>
<text x="87.20" y="456.20" font-size="8.20" fill="#2f2fff">PSMG1</text>
<text x="73.90" y="467.90" font-size="8.20" fill="#2f2fff">ARL4A</text>
<rect x="412.40" y="409.50" width="104.60" height="12.20" fill="#8e8e8e" stroke="#1a1a1a" stroke-width="1.00"/>
<line x1="407.80" y1="415.60" x2="412.40" y2="415.60" stroke="#222" stroke-width="1.00"/>
<text x="406.90" y="418.60" font-size="8.60" text-anchor="end" fill="#1a1a1a">Interferon Alpha/Beta Signaling</text>
<rect x="412.40" y="430.00" width="83.32" height="13.20" fill="#8e8e8e" stroke="#1a1a1a" stroke-width="1.00"/>
<line x1="407.80" y1="436.60" x2="412.40" y2="436.60" stroke="#222" stroke-width="1.00"/>
<text x="403.90" y="439.60" font-size="8.60" text-anchor="end" fill="#1a1a1a">Interferon Signaling</text>
<rect x="412.40" y="451.90" width="66.79" height="12.60" fill="#8e8e8e" stroke="#1a1a1a" stroke-width="1.00"/>
<line x1="407.80" y1="458.20" x2="412.40" y2="458.20" stroke="#222" stroke-width="1.00"/>
<text x="404.40" y="461.20" font-size="8.60" text-anchor="end" fill="#1a1a1a">Cytokine Signaling In Immune System</text>
<rect x="412.40" y="473.10" width="19.36" height="12.50" fill="#8e8e8e" stroke="#1a1a1a" stroke-width="1.00"/>
<line x1="407.80" y1="479.35" x2="412.40" y2="479.35" stroke="#222" stroke-width="1.00"/>
<text x="403.90" y="482.35" font-size="8.60" text-anchor="end" fill="#1a1a1a">Neutrophil Degranulation</text>
<rect x="412.40" y="494.40" width="17.32" height="13.10" fill="#8e8e8e" stroke="#1a1a1a" stroke-width="1.00"/>
<line x1="407.80" y1="500.95" x2="412.40" y2="500.95" stroke="#222" stroke-width="1.00"/>
<text x="406.90" y="503.95" font-size="8.60" text-anchor="end" fill="#1a1a1a">Innate Immune System</text>
<path d="M412.40,401.6 V514.3 H525.8" stroke="#1a1a1a" stroke-width="1.1" fill="none"/>
<line x1="412.40" y1="514.30" x2="412.40" y2="517.80" stroke="#222" stroke-width="1.00"/>
<text x="412.40" y="528.90" font-size="8.10" text-anchor="middle" fill="#222">0</text>
<line x1="435.04" y1="514.30" x2="435.04" y2="517.80" stroke="#222" stroke-width="1.00"/>
<text x="435.04" y="528.90" font-size="8.10" text-anchor="middle" fill="#222">2</text>
<line x1="457.68" y1="514.30" x2="457.68" y2="517.80" stroke="#222" stroke-width="1.00"/>
<text x="457.68" y="528.90" font-size="8.10" text-anchor="middle" fill="#222">4</text>
<line x1="480.32" y1="514.30" x2="480.32" y2="517.80" stroke="#222" stroke-width="1.00"/>
<text x="480.32" y="528.90" font-size="8.10" text-anchor="middle" fill="#222">6</text>
<line x1="502.96" y1="514.30" x2="502.96" y2="517.80" stroke="#222" stroke-width="1.00"/>
<text x="502.96" y="528.90" font-size="8.10" text-anchor="middle" fill="#222">8</text>
<line x1="525.60" y1="514.30" x2="525.60" y2="517.80" stroke="#222" stroke-width="1.00"/>
<text x="525.60" y="528.90" font-size="8.10" text-anchor="middle" fill="#222">10</text>
<text x="464.00" y="543.20" font-size="8.10" text-anchor="middle" fill="#222">Log(adjPvalue)</text>
</svg></body></html>
